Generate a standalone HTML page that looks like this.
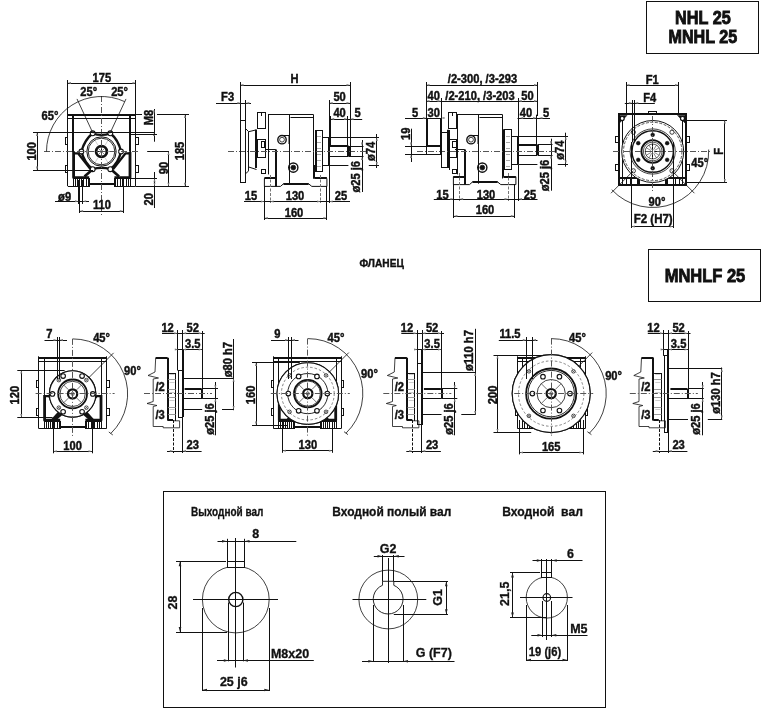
<!DOCTYPE html>
<html><head><meta charset="utf-8"><style>html,body{margin:0;padding:0;background:#fff;width:768px;height:716px;overflow:hidden}svg{display:block;will-change:transform}text{font-family:"Liberation Sans",sans-serif}</style></head>
<body><svg width="768" height="716" viewBox="0 0 768 716" font-family="Liberation Sans, sans-serif" fill="#111"><rect x="646.50" y="1.50" width="112.00" height="52.00" fill="none" stroke="#111" stroke-width="1.0"/>
<text transform="translate(702.90,17.00) rotate(0) scale(0.855,1)" x="0" y="6.80" font-size="19" font-weight="bold" text-anchor="middle" stroke="#111" stroke-width="0.90" xml:space="preserve">NHL 25</text>
<text transform="translate(702.90,36.60) rotate(0) scale(0.850,1)" x="0" y="6.80" font-size="19" font-weight="bold" text-anchor="middle" stroke="#111" stroke-width="0.90" xml:space="preserve">MNHL 25</text>
<rect x="648.50" y="249.50" width="112.00" height="52.00" fill="none" stroke="#111" stroke-width="1.0"/>
<text transform="translate(705.00,275.00) rotate(0) scale(0.890,1)" x="0" y="6.62" font-size="18.5" font-weight="bold" text-anchor="middle" stroke="#111" stroke-width="0.90" xml:space="preserve">MNHLF 25</text>
<text transform="translate(381.70,263.20) rotate(0) scale(1.000,1)" x="0" y="3.87" font-size="10.8" font-weight="bold" text-anchor="middle" stroke="#111" stroke-width="0.38" xml:space="preserve" textLength="44.2" lengthAdjust="spacingAndGlyphs">ФЛАНЕЦ</text>
<line x1="67.80" y1="115.00" x2="135.50" y2="115.00" stroke="#111" stroke-width="2.0"/>
<line x1="67.80" y1="118.50" x2="135.50" y2="118.50" stroke="#111" stroke-width="1.0"/>
<line x1="67.50" y1="113.00" x2="67.50" y2="186.00" stroke="#111" stroke-width="1.0"/>
<line x1="135.50" y1="113.00" x2="135.50" y2="186.00" stroke="#111" stroke-width="1.0"/>
<line x1="73.00" y1="115.00" x2="73.00" y2="152.00" stroke="#111" stroke-width="2.0"/>
<line x1="130.00" y1="115.00" x2="130.00" y2="152.00" stroke="#111" stroke-width="2.0"/>
<line x1="67.80" y1="186.50" x2="89.00" y2="186.50" stroke="#111" stroke-width="1.0"/>
<line x1="114.50" y1="186.50" x2="135.50" y2="186.50" stroke="#111" stroke-width="1.0"/>
<path d="M73.6,152.0 L73.6,177.6 L89.2,177.6" fill="none" stroke="#111" stroke-width="2.8" stroke-linejoin="round"/>
<path d="M73.6,153.3 L78.0,153.3 L90.6,169.4" fill="none" stroke="#111" stroke-width="2.3" stroke-linejoin="round"/>
<path d="M84.5,176.5 L93.0,169.0" fill="none" stroke="#111" stroke-width="2.6" stroke-linejoin="round"/>
<rect x="73.50" y="178.50" width="16.00" height="8.00" fill="none" stroke="#111" stroke-width="1.0"/>
<line x1="75.50" y1="178.50" x2="75.50" y2="186.00" stroke="#111" stroke-width="1.0"/>
<line x1="77.50" y1="178.50" x2="77.50" y2="186.00" stroke="#111" stroke-width="1.0"/>
<line x1="79.50" y1="178.50" x2="79.50" y2="186.00" stroke="#111" stroke-width="1.0"/>
<line x1="81.50" y1="178.50" x2="81.50" y2="186.00" stroke="#111" stroke-width="1.0"/>
<line x1="83.50" y1="178.50" x2="83.50" y2="186.00" stroke="#111" stroke-width="1.0"/>
<line x1="86.50" y1="178.50" x2="86.50" y2="186.00" stroke="#111" stroke-width="1.0"/>
<line x1="88.50" y1="178.50" x2="88.50" y2="186.00" stroke="#111" stroke-width="1.0"/>
<rect x="65.50" y="137.50" width="2.00" height="7.00" fill="none" stroke="#111" stroke-width="1.0"/>
<rect x="65.50" y="165.50" width="2.00" height="7.00" fill="none" stroke="#111" stroke-width="1.0"/>
<path d="M130.0,152.0 L130.0,177.6 L114.39999999999999,177.6" fill="none" stroke="#111" stroke-width="2.8" stroke-linejoin="round"/>
<path d="M130.0,153.3 L125.6,153.3 L113.0,169.4" fill="none" stroke="#111" stroke-width="2.3" stroke-linejoin="round"/>
<path d="M119.1,176.5 L110.6,169.0" fill="none" stroke="#111" stroke-width="2.6" stroke-linejoin="round"/>
<rect x="114.50" y="178.50" width="16.00" height="8.00" fill="none" stroke="#111" stroke-width="1.0"/>
<line x1="128.50" y1="178.50" x2="128.50" y2="186.00" stroke="#111" stroke-width="1.0"/>
<line x1="126.50" y1="178.50" x2="126.50" y2="186.00" stroke="#111" stroke-width="1.0"/>
<line x1="123.50" y1="178.50" x2="123.50" y2="186.00" stroke="#111" stroke-width="1.0"/>
<line x1="122.50" y1="178.50" x2="122.50" y2="186.00" stroke="#111" stroke-width="1.0"/>
<line x1="120.50" y1="178.50" x2="120.50" y2="186.00" stroke="#111" stroke-width="1.0"/>
<line x1="117.50" y1="178.50" x2="117.50" y2="186.00" stroke="#111" stroke-width="1.0"/>
<line x1="115.50" y1="178.50" x2="115.50" y2="186.00" stroke="#111" stroke-width="1.0"/>
<rect x="135.50" y="137.50" width="3.00" height="7.00" fill="none" stroke="#111" stroke-width="1.0"/>
<rect x="135.50" y="165.50" width="3.00" height="7.00" fill="none" stroke="#111" stroke-width="1.0"/>
<line x1="89.00" y1="184.00" x2="114.50" y2="184.00" stroke="#111" stroke-width="2.0"/>
<path d="M92.7,133.3 Q101.5,136.5 110.3,133.3 Q118.5,140 121,151.5 Q118.5,163 110.3,169.2 Q101.5,166.5 92.7,169.2 Q84.5,163 81.4,151.5 Q84.5,140 92.7,133.3 Z" fill="#fff" stroke="#111" stroke-width="2.4" stroke-linejoin="round"/>
<circle cx="92.70" cy="133.30" r="2.40" fill="#fff" stroke="#111" stroke-width="1.1"/>
<circle cx="110.30" cy="133.30" r="2.40" fill="#fff" stroke="#111" stroke-width="1.1"/>
<circle cx="121.00" cy="151.50" r="2.40" fill="#fff" stroke="#111" stroke-width="1.1"/>
<circle cx="110.30" cy="169.20" r="2.40" fill="#fff" stroke="#111" stroke-width="1.1"/>
<circle cx="92.70" cy="169.20" r="2.40" fill="#fff" stroke="#111" stroke-width="1.1"/>
<circle cx="81.40" cy="151.50" r="2.40" fill="#fff" stroke="#111" stroke-width="1.1"/>
<circle cx="101.50" cy="151.50" r="14.70" fill="none" stroke="#111" stroke-width="1.0"/>
<circle cx="101.50" cy="151.50" r="13.30" fill="none" stroke="#111" stroke-width="0.9"/>
<circle cx="101.50" cy="151.50" r="5.40" fill="none" stroke="#111" stroke-width="2.8"/>
<line x1="102.50" y1="151.50" x2="105.50" y2="151.50" stroke="#111" stroke-width="1.0"/>
<line x1="102.21" y1="152.21" x2="104.33" y2="154.33" stroke="#111" stroke-width="0.5"/>
<line x1="101.50" y1="152.50" x2="101.50" y2="155.50" stroke="#111" stroke-width="1.0"/>
<line x1="100.79" y1="152.21" x2="98.67" y2="154.33" stroke="#111" stroke-width="0.5"/>
<line x1="100.50" y1="151.50" x2="97.50" y2="151.50" stroke="#111" stroke-width="1.0"/>
<line x1="100.79" y1="150.79" x2="98.67" y2="148.67" stroke="#111" stroke-width="0.5"/>
<line x1="101.50" y1="150.50" x2="101.50" y2="147.50" stroke="#111" stroke-width="1.0"/>
<line x1="102.21" y1="150.79" x2="104.33" y2="148.67" stroke="#111" stroke-width="0.5"/>
<line x1="105.00" y1="145.44" x2="108.25" y2="139.81" stroke="#888" stroke-width="0.4"/>
<line x1="108.50" y1="151.50" x2="115.00" y2="151.50" stroke="#888" stroke-width="1.0"/>
<line x1="105.00" y1="157.56" x2="108.25" y2="163.19" stroke="#888" stroke-width="0.4"/>
<line x1="98.00" y1="157.56" x2="94.75" y2="163.19" stroke="#888" stroke-width="0.4"/>
<line x1="94.50" y1="151.50" x2="88.00" y2="151.50" stroke="#888" stroke-width="1.0"/>
<line x1="98.00" y1="145.44" x2="94.75" y2="139.81" stroke="#888" stroke-width="0.4"/>
<line x1="44.00" y1="151.50" x2="140.00" y2="151.50" stroke="#555" stroke-width="1.0" stroke-dasharray="6 2 1 2"/>
<line x1="147.20" y1="151.50" x2="169.00" y2="151.50" stroke="#111" stroke-width="1.0"/>
<line x1="101.50" y1="96.00" x2="101.50" y2="216.00" stroke="#555" stroke-width="1.0" stroke-dasharray="6 2 1 2"/>
<path d="M46.50,151.50 A55,55 0 0 1 124.74,101.65" fill="none" stroke="#111" stroke-width="0.8" stroke-linejoin="round"/>
<line x1="93.05" y1="133.37" x2="76.99" y2="98.93" stroke="#111" stroke-width="0.8"/>
<line x1="109.95" y1="133.37" x2="126.01" y2="98.93" stroke="#111" stroke-width="0.8"/>
<text transform="translate(101.80,77.60) rotate(0) scale(0.930,1)" x="0" y="4.30" font-size="12" font-weight="bold" text-anchor="middle" stroke="#111" stroke-width="0.42" xml:space="preserve">175</text>
<line x1="67.50" y1="83.50" x2="136.00" y2="83.50" stroke="#111" stroke-width="1.0"/>
<polygon points="67.50,83.00 71.00,82.00 71.00,84.00" fill="#777"/>
<polygon points="136.00,83.00 132.50,82.00 132.50,84.00" fill="#777"/>
<line x1="67.50" y1="80.00" x2="67.50" y2="114.00" stroke="#111" stroke-width="1.0"/>
<line x1="135.50" y1="80.00" x2="135.50" y2="114.00" stroke="#111" stroke-width="1.0"/>
<text transform="translate(88.80,92.00) rotate(0) scale(0.930,1)" x="0" y="4.30" font-size="12" font-weight="bold" text-anchor="middle" stroke="#111" stroke-width="0.42" xml:space="preserve">25°</text>
<text transform="translate(119.60,92.00) rotate(0) scale(0.930,1)" x="0" y="4.30" font-size="12" font-weight="bold" text-anchor="middle" stroke="#111" stroke-width="0.42" xml:space="preserve">25°</text>
<text transform="translate(50.00,115.50) rotate(0) scale(0.930,1)" x="0" y="4.30" font-size="12" font-weight="bold" text-anchor="middle" stroke="#111" stroke-width="0.42" xml:space="preserve">65°</text>
<line x1="37.50" y1="132.50" x2="37.50" y2="170.00" stroke="#111" stroke-width="1.0"/>
<polygon points="37.00,132.50 36.00,136.00 38.00,136.00" fill="#777"/>
<polygon points="37.00,170.00 36.00,166.50 38.00,166.50" fill="#777"/>
<line x1="33.00" y1="132.50" x2="155.00" y2="132.50" stroke="#111" stroke-width="1.0"/>
<line x1="33.00" y1="170.50" x2="93.00" y2="170.50" stroke="#111" stroke-width="1.0"/>
<text transform="translate(31.30,151.30) rotate(-90) scale(0.930,1)" x="0" y="4.30" font-size="12" font-weight="bold" text-anchor="middle" stroke="#111" stroke-width="0.42" xml:space="preserve">100</text>
<line x1="135.50" y1="114.50" x2="142.00" y2="114.50" stroke="#111" stroke-width="1.0"/>
<line x1="157.00" y1="114.50" x2="189.00" y2="114.50" stroke="#111" stroke-width="1.0"/>
<line x1="135.50" y1="186.50" x2="189.00" y2="186.50" stroke="#111" stroke-width="1.0"/>
<line x1="185.50" y1="114.50" x2="185.50" y2="186.30" stroke="#111" stroke-width="1.0"/>
<polygon points="185.00,114.50 184.00,118.00 186.00,118.00" fill="#777"/>
<polygon points="185.00,186.30 184.00,182.80 186.00,182.80" fill="#777"/>
<text transform="translate(180.00,151.00) rotate(-90) scale(0.930,1)" x="0" y="4.30" font-size="12" font-weight="bold" text-anchor="middle" stroke="#111" stroke-width="0.42" xml:space="preserve">185</text>
<line x1="168.50" y1="151.50" x2="168.50" y2="186.30" stroke="#111" stroke-width="1.0"/>
<polygon points="168.50,151.50 167.50,155.00 169.50,155.00" fill="#777"/>
<polygon points="168.50,186.30 167.50,182.80 169.50,182.80" fill="#777"/>
<text transform="translate(163.50,168.00) rotate(-90) scale(0.930,1)" x="0" y="4.30" font-size="12" font-weight="bold" text-anchor="middle" stroke="#111" stroke-width="0.42" xml:space="preserve">90</text>
<line x1="154.50" y1="109.00" x2="154.50" y2="141.70" stroke="#111" stroke-width="1.0"/>
<polygon points="154.00,114.00 153.00,110.50 155.00,110.50" fill="#777"/>
<polygon points="154.00,132.50 153.00,136.00 155.00,136.00" fill="#777"/>
<line x1="130.00" y1="134.50" x2="157.00" y2="134.50" stroke="#111" stroke-width="1.0"/>
<text transform="translate(148.70,117.50) rotate(-90) scale(0.930,1)" x="0" y="4.30" font-size="12" font-weight="bold" text-anchor="middle" stroke="#111" stroke-width="0.42" xml:space="preserve">M8</text>
<line x1="130.00" y1="178.50" x2="157.00" y2="178.50" stroke="#111" stroke-width="1.0"/>
<line x1="154.50" y1="172.00" x2="154.50" y2="208.00" stroke="#111" stroke-width="1.0"/>
<polygon points="154.50,178.30 153.50,181.80 155.50,181.80" fill="#777"/>
<polygon points="154.50,186.30 153.50,182.80 155.50,182.80" fill="#777"/>
<text transform="translate(148.30,199.20) rotate(-90) scale(0.930,1)" x="0" y="4.30" font-size="12" font-weight="bold" text-anchor="middle" stroke="#111" stroke-width="0.42" xml:space="preserve">20</text>
<line x1="78.50" y1="180.00" x2="78.50" y2="204.00" stroke="#111" stroke-width="1.0"/>
<line x1="82.50" y1="180.00" x2="82.50" y2="204.00" stroke="#111" stroke-width="1.0"/>
<line x1="55.00" y1="201.50" x2="89.00" y2="201.50" stroke="#111" stroke-width="1.0"/>
<polygon points="78.50,201.30 75.00,200.30 75.00,202.30" fill="#777"/>
<polygon points="82.70,201.30 86.20,200.30 86.20,202.30" fill="#777"/>
<text transform="translate(64.60,196.30) rotate(0) scale(0.930,1)" x="0" y="4.30" font-size="12" font-weight="bold" text-anchor="middle" stroke="#111" stroke-width="0.42" xml:space="preserve">ø9</text>
<line x1="79.50" y1="186.00" x2="79.50" y2="213.00" stroke="#111" stroke-width="1.0"/>
<line x1="123.50" y1="186.00" x2="123.50" y2="213.00" stroke="#111" stroke-width="1.0"/>
<line x1="79.60" y1="211.50" x2="123.30" y2="211.50" stroke="#111" stroke-width="1.0"/>
<polygon points="79.60,211.00 83.10,210.00 83.10,212.00" fill="#777"/>
<polygon points="123.30,211.00 119.80,210.00 119.80,212.00" fill="#777"/>
<text transform="translate(102.00,204.80) rotate(0) scale(0.930,1)" x="0" y="4.30" font-size="12" font-weight="bold" text-anchor="middle" stroke="#111" stroke-width="0.42" xml:space="preserve">110</text>
<rect x="257.50" y="112.50" width="8.00" height="16.00" fill="none" stroke="#111" stroke-width="1.0"/>
<line x1="261.50" y1="112.50" x2="261.50" y2="116.00" stroke="#111" stroke-width="1.0"/>
<line x1="256.00" y1="129.80" x2="256.00" y2="168.00" stroke="#111" stroke-width="2.0"/>
<rect x="257.50" y="139.50" width="8.00" height="18.00" fill="none" stroke="#111" stroke-width="1.0"/>
<rect x="261.50" y="141.50" width="3.00" height="6.00" fill="none" stroke="#111" stroke-width="1.0"/>
<rect x="261.50" y="169.50" width="4.00" height="4.00" fill="none" stroke="#111" stroke-width="1.0"/>
<line x1="268.50" y1="114.60" x2="268.50" y2="174.40" stroke="#111" stroke-width="1.0"/>
<line x1="268.30" y1="114.50" x2="289.00" y2="114.50" stroke="#666" stroke-width="1.0"/>
<line x1="313.50" y1="114.60" x2="313.50" y2="178.50" stroke="#111" stroke-width="1.0"/>
<line x1="289.50" y1="114.60" x2="289.50" y2="183.70" stroke="#111" stroke-width="1.0"/>
<line x1="289.00" y1="114.50" x2="313.50" y2="114.50" stroke="#111" stroke-width="1.0"/>
<line x1="290.50" y1="117.50" x2="313.50" y2="117.50" stroke="#111" stroke-width="1.0"/>
<line x1="268.00" y1="114.50" x2="289.00" y2="114.50" stroke="#111" stroke-width="1.0"/>
<line x1="266.00" y1="149.50" x2="275.80" y2="149.50" stroke="#111" stroke-width="1.0"/>
<circle cx="282.00" cy="139.70" r="4.20" fill="none" stroke="#111" stroke-width="1.4"/>
<circle cx="282.00" cy="139.70" r="2.40" fill="none" stroke="#111" stroke-width="0.8"/>
<path d="M282,135.5 L289,135.5 L289,144" fill="none" stroke="#111" stroke-width="1.0" stroke-linejoin="round"/>
<circle cx="293.30" cy="167.60" r="4.60" fill="none" stroke="#111" stroke-width="1.4"/>
<circle cx="293.30" cy="167.60" r="2.40" fill="#111" stroke="#111" stroke-width="0.8"/>
<path d="M264.4,186.4 L264.4,178.5 L275.8,178.5" fill="none" stroke="#111" stroke-width="1.0" stroke-linejoin="round"/>
<line x1="264.40" y1="178.00" x2="275.80" y2="178.00" stroke="#111" stroke-width="2.0"/>
<line x1="314.40" y1="178.00" x2="326.90" y2="178.00" stroke="#111" stroke-width="2.0"/>
<path d="M264.4,186.4 L280.5,186.4 L283.5,183.75 L308.6,183.75 L311.8,186.4 L326.9,186.4 L326.9,178.5" fill="none" stroke="#111" stroke-width="1.0" stroke-linejoin="round"/>
<line x1="283.50" y1="184.00" x2="308.60" y2="184.00" stroke="#111" stroke-width="2.0"/>
<line x1="276.00" y1="149.50" x2="276.00" y2="186.40" stroke="#111" stroke-width="2.0"/>
<line x1="314.00" y1="165.00" x2="314.00" y2="178.50" stroke="#111" stroke-width="2.0"/>
<rect x="315.50" y="130.50" width="7.00" height="41.00" fill="none" stroke="#111" stroke-width="1.0"/>
<line x1="316.00" y1="130.60" x2="316.00" y2="171.00" stroke="#111" stroke-width="2.0"/>
<line x1="317.00" y1="136.50" x2="321.00" y2="136.50" stroke="#aaa" stroke-width="1.0"/>
<line x1="317.00" y1="142.50" x2="321.00" y2="142.50" stroke="#aaa" stroke-width="1.0"/>
<line x1="317.00" y1="148.50" x2="321.00" y2="148.50" stroke="#aaa" stroke-width="1.0"/>
<line x1="317.00" y1="154.50" x2="321.00" y2="154.50" stroke="#aaa" stroke-width="1.0"/>
<line x1="317.00" y1="160.50" x2="321.00" y2="160.50" stroke="#aaa" stroke-width="1.0"/>
<line x1="317.00" y1="166.50" x2="321.00" y2="166.50" stroke="#aaa" stroke-width="1.0"/>
<line x1="313.50" y1="171.50" x2="315.00" y2="171.50" stroke="#111" stroke-width="1.0"/>
<line x1="322.00" y1="137.50" x2="329.20" y2="137.50" stroke="#111" stroke-width="1.0"/>
<line x1="322.00" y1="165.50" x2="329.20" y2="165.50" stroke="#111" stroke-width="1.0"/>
<line x1="329.00" y1="137.60" x2="329.00" y2="165.30" stroke="#111" stroke-width="2.0"/>
<line x1="329.20" y1="146.00" x2="348.40" y2="146.00" stroke="#111" stroke-width="2.0"/>
<line x1="329.20" y1="156.50" x2="348.40" y2="156.50" stroke="#111" stroke-width="1.0"/>
<line x1="349.00" y1="146.00" x2="349.00" y2="156.40" stroke="#111" stroke-width="2.0"/>
<line x1="329.20" y1="137.50" x2="379.00" y2="137.50" stroke="#111" stroke-width="1.0"/>
<line x1="329.20" y1="165.50" x2="348.40" y2="165.50" stroke="#111" stroke-width="1.0"/>
<line x1="368.80" y1="165.50" x2="379.00" y2="165.50" stroke="#111" stroke-width="1.0"/>
<line x1="376.50" y1="134.00" x2="376.50" y2="168.00" stroke="#111" stroke-width="1.0"/>
<polygon points="376.80,137.60 375.80,141.10 377.80,141.10" fill="#777"/>
<polygon points="376.80,165.40 375.80,161.90 377.80,161.90" fill="#777"/>
<text transform="translate(370.40,151.40) rotate(-90) scale(0.930,1)" x="0" y="4.30" font-size="12" font-weight="bold" text-anchor="middle" stroke="#111" stroke-width="0.42" xml:space="preserve">ø74</text>
<line x1="348.90" y1="146.50" x2="363.50" y2="146.50" stroke="#111" stroke-width="1.0"/>
<line x1="348.90" y1="156.50" x2="363.50" y2="156.50" stroke="#111" stroke-width="1.0"/>
<line x1="362.50" y1="140.00" x2="362.50" y2="192.00" stroke="#111" stroke-width="1.0"/>
<polygon points="362.00,146.00 361.00,142.50 363.00,142.50" fill="#777"/>
<polygon points="362.00,156.40 361.00,159.90 363.00,159.90" fill="#777"/>
<text transform="translate(355.80,176.80) rotate(-90) scale(0.930,1)" x="0" y="4.30" font-size="12" font-weight="bold" text-anchor="middle" stroke="#111" stroke-width="0.42" xml:space="preserve">ø25 j6</text>
<line x1="347.50" y1="116.00" x2="347.50" y2="156.40" stroke="#111" stroke-width="1.0"/>
<line x1="228.00" y1="151.50" x2="368.00" y2="151.50" stroke="#555" stroke-width="1.0" stroke-dasharray="6 2 1 2"/>
<rect x="240.50" y="120.50" width="5.00" height="62.00" fill="none" stroke="#111" stroke-width="1.0"/>
<line x1="245.50" y1="100.00" x2="245.50" y2="120.50" stroke="#111" stroke-width="1.0"/>
<path d="M245.8,128.8 L248.7,131.7 L256.5,129.8 M248.7,167 L256.5,169.5 M245.8,173.5 L248.7,170.9" fill="none" stroke="#111" stroke-width="1.0" stroke-linejoin="round"/>
<line x1="248.50" y1="131.70" x2="248.50" y2="170.90" stroke="#111" stroke-width="1.0"/>
<text transform="translate(294.50,78.80) rotate(0) scale(0.930,1)" x="0" y="4.30" font-size="12" font-weight="bold" text-anchor="middle" stroke="#111" stroke-width="0.42" xml:space="preserve">H</text>
<line x1="240.00" y1="85.50" x2="350.00" y2="85.50" stroke="#111" stroke-width="1.0"/>
<polygon points="240.00,85.00 243.50,84.00 243.50,86.00" fill="#777"/>
<polygon points="350.00,85.00 346.50,84.00 346.50,86.00" fill="#777"/>
<line x1="240.50" y1="82.00" x2="240.50" y2="120.50" stroke="#111" stroke-width="1.0"/>
<line x1="350.50" y1="82.00" x2="350.50" y2="156.00" stroke="#111" stroke-width="1.0"/>
<text transform="translate(227.60,96.80) rotate(0) scale(0.930,1)" x="0" y="4.30" font-size="12" font-weight="bold" text-anchor="middle" stroke="#111" stroke-width="0.42" xml:space="preserve">F3</text>
<line x1="216.00" y1="103.50" x2="251.00" y2="103.50" stroke="#111" stroke-width="1.0"/>
<polygon points="240.90,103.00 237.40,102.00 237.40,104.00" fill="#777"/>
<polygon points="245.80,103.00 249.30,102.00 249.30,104.00" fill="#777"/>
<text transform="translate(339.60,96.90) rotate(0) scale(0.930,1)" x="0" y="4.30" font-size="12" font-weight="bold" text-anchor="middle" stroke="#111" stroke-width="0.42" xml:space="preserve">50</text>
<line x1="329.20" y1="103.50" x2="350.00" y2="103.50" stroke="#111" stroke-width="1.0"/>
<polygon points="329.20,103.00 332.70,102.00 332.70,104.00" fill="#777"/>
<polygon points="350.00,103.00 346.50,102.00 346.50,104.00" fill="#777"/>
<line x1="329.50" y1="100.00" x2="329.50" y2="137.60" stroke="#111" stroke-width="1.0"/>
<text transform="translate(339.60,113.00) rotate(0) scale(0.930,1)" x="0" y="4.30" font-size="12" font-weight="bold" text-anchor="middle" stroke="#111" stroke-width="0.42" xml:space="preserve">40</text>
<text transform="translate(357.60,113.00) rotate(0) scale(0.930,1)" x="0" y="4.30" font-size="12" font-weight="bold" text-anchor="middle" stroke="#111" stroke-width="0.42" xml:space="preserve">5</text>
<line x1="330.70" y1="119.50" x2="362.20" y2="119.50" stroke="#111" stroke-width="1.0"/>
<polygon points="330.70,119.00 334.20,118.00 334.20,120.00" fill="#777"/>
<polygon points="347.60,119.00 344.10,118.00 344.10,120.00" fill="#777"/>
<polygon points="350.00,119.00 353.50,118.00 353.50,120.00" fill="#777"/>
<line x1="330.50" y1="116.00" x2="330.50" y2="145.30" stroke="#111" stroke-width="1.0"/>
<text transform="translate(251.00,196.00) rotate(0) scale(0.930,1)" x="0" y="4.30" font-size="12" font-weight="bold" text-anchor="middle" stroke="#111" stroke-width="0.42" xml:space="preserve">15</text>
<text transform="translate(295.00,196.00) rotate(0) scale(0.930,1)" x="0" y="4.30" font-size="12" font-weight="bold" text-anchor="middle" stroke="#111" stroke-width="0.42" xml:space="preserve">130</text>
<text transform="translate(341.00,196.00) rotate(0) scale(0.930,1)" x="0" y="4.30" font-size="12" font-weight="bold" text-anchor="middle" stroke="#111" stroke-width="0.42" xml:space="preserve">25</text>
<line x1="244.00" y1="201.50" x2="350.00" y2="201.50" stroke="#111" stroke-width="1.0"/>
<polygon points="264.40,201.50 260.90,200.50 260.90,202.50" fill="#777"/>
<polygon points="270.10,201.50 273.60,200.50 273.60,202.50" fill="#777"/>
<polygon points="320.60,201.50 317.10,200.50 317.10,202.50" fill="#777"/>
<polygon points="329.20,201.50 332.70,200.50 332.70,202.50" fill="#777"/>
<text transform="translate(294.00,212.50) rotate(0) scale(0.930,1)" x="0" y="4.30" font-size="12" font-weight="bold" text-anchor="middle" stroke="#111" stroke-width="0.42" xml:space="preserve">160</text>
<line x1="264.40" y1="218.50" x2="326.90" y2="218.50" stroke="#111" stroke-width="1.0"/>
<polygon points="264.40,218.00 267.90,217.00 267.90,219.00" fill="#777"/>
<polygon points="326.90,218.00 323.40,217.00 323.40,219.00" fill="#777"/>
<line x1="264.50" y1="186.00" x2="264.50" y2="220.00" stroke="#111" stroke-width="1.0"/>
<line x1="326.50" y1="186.00" x2="326.50" y2="220.00" stroke="#111" stroke-width="1.0"/>
<line x1="270.50" y1="175.00" x2="270.50" y2="203.00" stroke="#777" stroke-width="1.0" stroke-dasharray="3 1.5"/>
<line x1="320.50" y1="175.00" x2="320.50" y2="203.00" stroke="#777" stroke-width="1.0" stroke-dasharray="3 1.5"/>
<line x1="329.50" y1="165.00" x2="329.50" y2="203.00" stroke="#111" stroke-width="1.0"/>
<rect x="448.50" y="112.50" width="8.00" height="16.00" fill="none" stroke="#111" stroke-width="1.0"/>
<line x1="452.50" y1="112.50" x2="452.50" y2="116.00" stroke="#111" stroke-width="1.0"/>
<line x1="448.00" y1="129.80" x2="448.00" y2="168.00" stroke="#111" stroke-width="2.0"/>
<rect x="448.50" y="139.50" width="8.00" height="18.00" fill="none" stroke="#111" stroke-width="1.0"/>
<rect x="452.50" y="141.50" width="4.00" height="6.00" fill="none" stroke="#111" stroke-width="1.0"/>
<rect x="452.50" y="169.50" width="4.00" height="4.00" fill="none" stroke="#111" stroke-width="1.0"/>
<line x1="457.50" y1="114.60" x2="457.50" y2="174.40" stroke="#111" stroke-width="1.0"/>
<line x1="457.30" y1="114.50" x2="478.00" y2="114.50" stroke="#666" stroke-width="1.0"/>
<line x1="502.50" y1="114.60" x2="502.50" y2="178.50" stroke="#111" stroke-width="1.0"/>
<line x1="478.50" y1="114.60" x2="478.50" y2="183.70" stroke="#111" stroke-width="1.0"/>
<line x1="478.00" y1="114.50" x2="502.50" y2="114.50" stroke="#111" stroke-width="1.0"/>
<line x1="479.50" y1="117.50" x2="502.50" y2="117.50" stroke="#111" stroke-width="1.0"/>
<line x1="457.00" y1="114.50" x2="478.00" y2="114.50" stroke="#111" stroke-width="1.0"/>
<line x1="455.00" y1="149.50" x2="464.80" y2="149.50" stroke="#111" stroke-width="1.0"/>
<circle cx="471.00" cy="139.70" r="4.20" fill="none" stroke="#111" stroke-width="1.4"/>
<circle cx="471.00" cy="139.70" r="2.40" fill="none" stroke="#111" stroke-width="0.8"/>
<path d="M471,135.5 L478,135.5 L478,144" fill="none" stroke="#111" stroke-width="1.0" stroke-linejoin="round"/>
<circle cx="482.30" cy="167.60" r="4.60" fill="none" stroke="#111" stroke-width="1.4"/>
<circle cx="482.30" cy="167.60" r="2.40" fill="#111" stroke="#111" stroke-width="0.8"/>
<path d="M453.4,184.6 L453.4,176.7 L464.8,176.7" fill="none" stroke="#111" stroke-width="1.0" stroke-linejoin="round"/>
<line x1="453.40" y1="177.00" x2="464.80" y2="177.00" stroke="#111" stroke-width="2.0"/>
<line x1="503.40" y1="177.00" x2="515.90" y2="177.00" stroke="#111" stroke-width="2.0"/>
<path d="M453.4,184.6 L469.5,184.6 L472.5,181.95 L497.6,181.95 L500.8,184.6 L515.9,184.6 L515.9,176.7" fill="none" stroke="#111" stroke-width="1.0" stroke-linejoin="round"/>
<line x1="472.50" y1="182.00" x2="497.60" y2="182.00" stroke="#111" stroke-width="2.0"/>
<line x1="465.00" y1="149.50" x2="465.00" y2="184.60" stroke="#111" stroke-width="2.0"/>
<line x1="503.00" y1="165.00" x2="503.00" y2="176.70" stroke="#111" stroke-width="2.0"/>
<rect x="504.50" y="129.50" width="7.00" height="40.00" fill="none" stroke="#111" stroke-width="1.0"/>
<line x1="504.00" y1="129.30" x2="504.00" y2="169.70" stroke="#111" stroke-width="2.0"/>
<line x1="506.00" y1="136.50" x2="510.00" y2="136.50" stroke="#aaa" stroke-width="1.0"/>
<line x1="506.00" y1="142.50" x2="510.00" y2="142.50" stroke="#aaa" stroke-width="1.0"/>
<line x1="506.00" y1="148.50" x2="510.00" y2="148.50" stroke="#aaa" stroke-width="1.0"/>
<line x1="506.00" y1="154.50" x2="510.00" y2="154.50" stroke="#aaa" stroke-width="1.0"/>
<line x1="506.00" y1="160.50" x2="510.00" y2="160.50" stroke="#aaa" stroke-width="1.0"/>
<line x1="506.00" y1="166.50" x2="510.00" y2="166.50" stroke="#aaa" stroke-width="1.0"/>
<line x1="502.50" y1="169.50" x2="504.00" y2="169.50" stroke="#111" stroke-width="1.0"/>
<line x1="511.00" y1="136.50" x2="518.20" y2="136.50" stroke="#111" stroke-width="1.0"/>
<line x1="511.00" y1="164.50" x2="518.20" y2="164.50" stroke="#111" stroke-width="1.0"/>
<line x1="518.00" y1="136.30" x2="518.00" y2="164.00" stroke="#111" stroke-width="2.0"/>
<line x1="518.20" y1="145.00" x2="537.40" y2="145.00" stroke="#111" stroke-width="2.0"/>
<line x1="518.20" y1="155.50" x2="537.40" y2="155.50" stroke="#111" stroke-width="1.0"/>
<line x1="538.00" y1="144.70" x2="538.00" y2="155.10" stroke="#111" stroke-width="2.0"/>
<line x1="518.20" y1="136.50" x2="568.00" y2="136.50" stroke="#111" stroke-width="1.0"/>
<line x1="518.20" y1="164.50" x2="537.40" y2="164.50" stroke="#111" stroke-width="1.0"/>
<line x1="557.80" y1="164.50" x2="568.00" y2="164.50" stroke="#111" stroke-width="1.0"/>
<line x1="565.50" y1="132.70" x2="565.50" y2="166.70" stroke="#111" stroke-width="1.0"/>
<polygon points="565.80,136.30 564.80,139.80 566.80,139.80" fill="#777"/>
<polygon points="565.80,164.10 564.80,160.60 566.80,160.60" fill="#777"/>
<text transform="translate(559.40,150.10) rotate(-90) scale(0.930,1)" x="0" y="4.30" font-size="12" font-weight="bold" text-anchor="middle" stroke="#111" stroke-width="0.42" xml:space="preserve">ø74</text>
<line x1="537.90" y1="144.50" x2="552.50" y2="144.50" stroke="#111" stroke-width="1.0"/>
<line x1="537.90" y1="155.50" x2="552.50" y2="155.50" stroke="#111" stroke-width="1.0"/>
<line x1="551.50" y1="138.70" x2="551.50" y2="190.70" stroke="#111" stroke-width="1.0"/>
<polygon points="551.00,144.70 550.00,141.20 552.00,141.20" fill="#777"/>
<polygon points="551.00,155.10 550.00,158.60 552.00,158.60" fill="#777"/>
<text transform="translate(544.80,175.50) rotate(-90) scale(0.930,1)" x="0" y="4.30" font-size="12" font-weight="bold" text-anchor="middle" stroke="#111" stroke-width="0.42" xml:space="preserve">ø25 j6</text>
<line x1="536.50" y1="114.70" x2="536.50" y2="155.10" stroke="#111" stroke-width="1.0"/>
<line x1="417.00" y1="151.50" x2="557.00" y2="151.50" stroke="#555" stroke-width="1.0" stroke-dasharray="6 2 1 2"/>
<line x1="441.50" y1="132.70" x2="441.50" y2="167.60" stroke="#111" stroke-width="1.0"/>
<line x1="441.00" y1="132.50" x2="449.00" y2="132.50" stroke="#111" stroke-width="1.0"/>
<line x1="441.00" y1="167.50" x2="449.00" y2="167.50" stroke="#111" stroke-width="1.0"/>
<line x1="449.50" y1="130.00" x2="449.50" y2="170.00" stroke="#111" stroke-width="1.0"/>
<rect x="426.50" y="118.50" width="14.00" height="36.00" fill="none" stroke="#111" stroke-width="1.0"/>
<line x1="427.00" y1="118.00" x2="427.00" y2="145.30" stroke="#111" stroke-width="2.0"/>
<line x1="427.00" y1="145.50" x2="440.40" y2="145.50" stroke="#111" stroke-width="1.0"/>
<line x1="405.00" y1="146.50" x2="441.00" y2="146.50" stroke="#111" stroke-width="1.0"/>
<line x1="405.00" y1="154.50" x2="441.00" y2="154.50" stroke="#111" stroke-width="1.0"/>
<line x1="411.50" y1="128.70" x2="411.50" y2="162.00" stroke="#111" stroke-width="1.0"/>
<polygon points="411.00,146.00 410.00,142.50 412.00,142.50" fill="#777"/>
<polygon points="411.00,154.40 410.00,157.90 412.00,157.90" fill="#777"/>
<text transform="translate(406.00,133.80) rotate(-90) scale(0.930,1)" x="0" y="4.30" font-size="12" font-weight="bold" text-anchor="middle" stroke="#111" stroke-width="0.42" xml:space="preserve">19</text>
<text transform="translate(482.50,78.80) rotate(0) scale(0.930,1)" x="0" y="4.30" font-size="12" font-weight="bold" text-anchor="middle" stroke="#111" stroke-width="0.42" xml:space="preserve">/2-300, /3-293</text>
<line x1="426.00" y1="85.50" x2="537.50" y2="85.50" stroke="#111" stroke-width="1.0"/>
<polygon points="426.00,85.00 429.50,84.00 429.50,86.00" fill="#777"/>
<polygon points="537.50,85.00 534.00,84.00 534.00,86.00" fill="#777"/>
<text transform="translate(433.80,95.80) rotate(0) scale(0.930,1)" x="0" y="4.30" font-size="12" font-weight="bold" text-anchor="middle" stroke="#111" stroke-width="0.42" xml:space="preserve">40</text>
<text transform="translate(480.00,95.80) rotate(0) scale(0.930,1)" x="0" y="4.30" font-size="12" font-weight="bold" text-anchor="middle" stroke="#111" stroke-width="0.42" xml:space="preserve">/2-210, /3-203</text>
<text transform="translate(527.50,95.80) rotate(0) scale(0.930,1)" x="0" y="4.30" font-size="12" font-weight="bold" text-anchor="middle" stroke="#111" stroke-width="0.42" xml:space="preserve">50</text>
<line x1="426.00" y1="101.50" x2="537.50" y2="101.50" stroke="#111" stroke-width="1.0"/>
<polygon points="426.00,101.00 429.50,100.00 429.50,102.00" fill="#777"/>
<polygon points="537.50,101.00 534.00,100.00 534.00,102.00" fill="#777"/>
<polygon points="441.00,101.00 437.50,100.00 437.50,102.00" fill="#777"/>
<polygon points="518.20,101.00 521.70,100.00 521.70,102.00" fill="#777"/>
<line x1="426.50" y1="82.00" x2="426.50" y2="118.00" stroke="#111" stroke-width="1.0"/>
<line x1="441.50" y1="98.00" x2="441.50" y2="132.70" stroke="#111" stroke-width="1.0"/>
<line x1="537.50" y1="82.00" x2="537.50" y2="116.00" stroke="#111" stroke-width="1.0"/>
<line x1="518.50" y1="98.00" x2="518.50" y2="137.60" stroke="#111" stroke-width="1.0"/>
<text transform="translate(415.00,112.50) rotate(0) scale(0.930,1)" x="0" y="4.30" font-size="12" font-weight="bold" text-anchor="middle" stroke="#111" stroke-width="0.42" xml:space="preserve">5</text>
<text transform="translate(433.80,112.50) rotate(0) scale(0.930,1)" x="0" y="4.30" font-size="12" font-weight="bold" text-anchor="middle" stroke="#111" stroke-width="0.42" xml:space="preserve">30</text>
<line x1="405.00" y1="118.50" x2="441.00" y2="118.50" stroke="#111" stroke-width="1.0"/>
<polygon points="426.40,118.00 422.90,117.00 422.90,119.00" fill="#777"/>
<polygon points="441.00,118.00 444.50,117.00 444.50,119.00" fill="#777"/>
<text transform="translate(526.00,112.50) rotate(0) scale(0.930,1)" x="0" y="4.30" font-size="12" font-weight="bold" text-anchor="middle" stroke="#111" stroke-width="0.42" xml:space="preserve">40</text>
<text transform="translate(546.00,112.50) rotate(0) scale(0.930,1)" x="0" y="4.30" font-size="12" font-weight="bold" text-anchor="middle" stroke="#111" stroke-width="0.42" xml:space="preserve">5</text>
<line x1="517.50" y1="118.50" x2="550.00" y2="118.50" stroke="#111" stroke-width="1.0"/>
<polygon points="519.70,118.00 523.20,117.00 523.20,119.00" fill="#777"/>
<polygon points="536.60,118.00 533.10,117.00 533.10,119.00" fill="#777"/>
<polygon points="539.00,118.00 542.50,117.00 542.50,119.00" fill="#777"/>
<text transform="translate(442.50,195.00) rotate(0) scale(0.930,1)" x="0" y="4.30" font-size="12" font-weight="bold" text-anchor="middle" stroke="#111" stroke-width="0.42" xml:space="preserve">15</text>
<text transform="translate(486.00,195.00) rotate(0) scale(0.930,1)" x="0" y="4.30" font-size="12" font-weight="bold" text-anchor="middle" stroke="#111" stroke-width="0.42" xml:space="preserve">130</text>
<text transform="translate(530.00,195.00) rotate(0) scale(0.930,1)" x="0" y="4.30" font-size="12" font-weight="bold" text-anchor="middle" stroke="#111" stroke-width="0.42" xml:space="preserve">25</text>
<line x1="433.80" y1="199.50" x2="537.50" y2="199.50" stroke="#111" stroke-width="1.0"/>
<polygon points="453.90,199.00 450.40,198.00 450.40,200.00" fill="#777"/>
<polygon points="459.60,199.00 463.10,198.00 463.10,200.00" fill="#777"/>
<polygon points="508.00,199.00 504.50,198.00 504.50,200.00" fill="#777"/>
<polygon points="518.50,199.00 522.00,198.00 522.00,200.00" fill="#777"/>
<line x1="459.50" y1="173.00" x2="459.50" y2="201.00" stroke="#777" stroke-width="1.0" stroke-dasharray="3 1.5"/>
<line x1="508.50" y1="173.00" x2="508.50" y2="201.00" stroke="#777" stroke-width="1.0" stroke-dasharray="3 1.5"/>
<line x1="518.50" y1="165.00" x2="518.50" y2="201.00" stroke="#111" stroke-width="1.0"/>
<text transform="translate(485.00,210.00) rotate(0) scale(0.930,1)" x="0" y="4.30" font-size="12" font-weight="bold" text-anchor="middle" stroke="#111" stroke-width="0.42" xml:space="preserve">160</text>
<line x1="453.90" y1="216.50" x2="514.30" y2="216.50" stroke="#111" stroke-width="1.0"/>
<polygon points="453.90,216.00 457.40,215.00 457.40,217.00" fill="#777"/>
<polygon points="514.30,216.00 510.80,215.00 510.80,217.00" fill="#777"/>
<line x1="453.50" y1="184.00" x2="453.50" y2="218.00" stroke="#111" stroke-width="1.0"/>
<line x1="514.50" y1="184.00" x2="514.50" y2="218.00" stroke="#111" stroke-width="1.0"/>
<rect x="619.00" y="114.00" width="67.00" height="71.00" fill="none" stroke="#111" stroke-width="2.0"/>
<line x1="622.50" y1="117.00" x2="622.50" y2="178.00" stroke="#111" stroke-width="1.0"/>
<line x1="682.50" y1="117.00" x2="682.50" y2="178.00" stroke="#111" stroke-width="1.0"/>
<line x1="618.80" y1="178.00" x2="686.00" y2="178.00" stroke="#111" stroke-width="2.0"/>
<rect x="618.50" y="178.50" width="21.00" height="7.00" fill="none" stroke="#111" stroke-width="1.0"/>
<rect x="665.50" y="178.50" width="21.00" height="7.00" fill="none" stroke="#111" stroke-width="1.0"/>
<line x1="622.50" y1="178.00" x2="622.50" y2="185.40" stroke="#111" stroke-width="1.0"/>
<line x1="638.00" y1="178.00" x2="638.00" y2="185.40" stroke="#111" stroke-width="2.0"/>
<line x1="667.00" y1="178.00" x2="667.00" y2="185.40" stroke="#111" stroke-width="2.0"/>
<line x1="682.50" y1="178.00" x2="682.50" y2="185.40" stroke="#111" stroke-width="1.0"/>
<line x1="626.50" y1="178.00" x2="626.50" y2="185.40" stroke="#111" stroke-width="1.0"/>
<line x1="630.50" y1="178.00" x2="630.50" y2="185.40" stroke="#111" stroke-width="1.0"/>
<line x1="675.50" y1="178.00" x2="675.50" y2="185.40" stroke="#111" stroke-width="1.0"/>
<line x1="679.50" y1="178.00" x2="679.50" y2="185.40" stroke="#111" stroke-width="1.0"/>
<line x1="639.50" y1="185.00" x2="665.30" y2="185.00" stroke="#111" stroke-width="2.0"/>
<rect x="648.50" y="111.50" width="8.00" height="3.00" fill="none" stroke="#111" stroke-width="1.0"/>
<path d="M619.5,115.5 L627,115.5 L619.5,123 Z" fill="#111" stroke="#111" stroke-width="0.5" stroke-linejoin="round"/>
<path d="M685,115.5 L677.5,115.5 L685,123 Z" fill="#111" stroke="#111" stroke-width="0.5" stroke-linejoin="round"/>
<circle cx="622.20" cy="118.50" r="2.00" fill="#fff" stroke="#111" stroke-width="1.2"/>
<circle cx="682.50" cy="118.50" r="2.00" fill="#fff" stroke="#111" stroke-width="1.2"/>
<rect x="615.50" y="136.50" width="3.00" height="6.00" fill="none" stroke="#111" stroke-width="1.0"/>
<rect x="686.50" y="136.50" width="3.00" height="6.00" fill="none" stroke="#111" stroke-width="1.0"/>
<rect x="615.50" y="164.50" width="3.00" height="6.00" fill="none" stroke="#111" stroke-width="1.0"/>
<rect x="686.50" y="164.50" width="3.00" height="6.00" fill="none" stroke="#111" stroke-width="1.0"/>
<circle cx="652.70" cy="151.50" r="31.00" fill="#fff" stroke="#111" stroke-width="1.0"/>
<circle cx="652.70" cy="151.50" r="29.20" fill="none" stroke="#111" stroke-width="0.7" stroke-dasharray="3 1.5"/>
<circle cx="652.70" cy="151.50" r="22.60" fill="none" stroke="#111" stroke-width="0.8"/>
<circle cx="652.70" cy="151.50" r="20.70" fill="none" stroke="#111" stroke-width="1.4"/>
<circle cx="652.70" cy="151.50" r="11.30" fill="none" stroke="#111" stroke-width="1.8"/>
<circle cx="652.70" cy="151.50" r="9.40" fill="none" stroke="#111" stroke-width="0.7"/>
<circle cx="652.70" cy="151.50" r="7.50" fill="none" stroke="#111" stroke-width="0.7"/>
<line x1="654.70" y1="151.50" x2="660.20" y2="151.50" stroke="#111" stroke-width="1.0"/>
<line x1="654.43" y1="152.50" x2="659.20" y2="155.25" stroke="#111" stroke-width="0.5"/>
<line x1="653.70" y1="153.23" x2="656.45" y2="158.00" stroke="#111" stroke-width="0.5"/>
<line x1="652.50" y1="153.50" x2="652.50" y2="159.00" stroke="#111" stroke-width="1.0"/>
<line x1="651.70" y1="153.23" x2="648.95" y2="158.00" stroke="#111" stroke-width="0.5"/>
<line x1="650.97" y1="152.50" x2="646.20" y2="155.25" stroke="#111" stroke-width="0.5"/>
<line x1="650.70" y1="151.50" x2="645.20" y2="151.50" stroke="#111" stroke-width="1.0"/>
<line x1="650.97" y1="150.50" x2="646.20" y2="147.75" stroke="#111" stroke-width="0.5"/>
<line x1="651.70" y1="149.77" x2="648.95" y2="145.00" stroke="#111" stroke-width="0.5"/>
<line x1="652.50" y1="149.50" x2="652.50" y2="144.00" stroke="#111" stroke-width="1.0"/>
<line x1="653.70" y1="149.77" x2="656.45" y2="145.00" stroke="#111" stroke-width="0.5"/>
<line x1="654.43" y1="150.50" x2="659.20" y2="147.75" stroke="#111" stroke-width="0.5"/>
<circle cx="652.70" cy="134.80" r="1.90" fill="#111" stroke="#111" stroke-width="0.5"/>
<circle cx="667.16" cy="143.15" r="1.90" fill="#111" stroke="#111" stroke-width="0.5"/>
<circle cx="667.16" cy="159.85" r="1.90" fill="#111" stroke="#111" stroke-width="0.5"/>
<circle cx="652.70" cy="168.20" r="1.90" fill="#111" stroke="#111" stroke-width="0.5"/>
<circle cx="638.24" cy="159.85" r="1.90" fill="#111" stroke="#111" stroke-width="0.5"/>
<circle cx="638.24" cy="143.15" r="1.90" fill="#111" stroke="#111" stroke-width="0.5"/>
<circle cx="672.00" cy="170.80" r="2.10" fill="none" stroke="#111" stroke-width="0.8"/>
<circle cx="633.40" cy="170.80" r="2.10" fill="none" stroke="#111" stroke-width="0.8"/>
<circle cx="633.40" cy="132.20" r="2.10" fill="none" stroke="#111" stroke-width="0.8"/>
<circle cx="672.00" cy="132.20" r="2.10" fill="none" stroke="#111" stroke-width="0.8"/>
<line x1="613.00" y1="151.50" x2="712.00" y2="151.50" stroke="#555" stroke-width="1.0" stroke-dasharray="6 2 1 2"/>
<line x1="652.50" y1="116.00" x2="652.50" y2="192.00" stroke="#555" stroke-width="1.0" stroke-dasharray="6 2 1 2"/>
<path d="M708.67,149.55 A56,56 0 0 1 611.74,189.69" fill="none" stroke="#111" stroke-width="0.8" stroke-linejoin="round"/>
<line x1="671.79" y1="170.59" x2="694.42" y2="193.22" stroke="#111" stroke-width="0.8"/>
<line x1="633.61" y1="170.59" x2="610.98" y2="193.22" stroke="#111" stroke-width="0.8"/>
<text transform="translate(699.80,162.80) rotate(0) scale(0.930,1)" x="0" y="4.30" font-size="12" font-weight="bold" text-anchor="middle" stroke="#111" stroke-width="0.42" xml:space="preserve">45°</text>
<text transform="translate(657.00,201.50) rotate(0) scale(0.930,1)" x="0" y="4.30" font-size="12" font-weight="bold" text-anchor="middle" stroke="#111" stroke-width="0.42" xml:space="preserve">90°</text>
<text transform="translate(652.30,79.50) rotate(0) scale(0.930,1)" x="0" y="4.30" font-size="12" font-weight="bold" text-anchor="middle" stroke="#111" stroke-width="0.42" xml:space="preserve">F1</text>
<line x1="626.00" y1="85.50" x2="678.50" y2="85.50" stroke="#111" stroke-width="1.0"/>
<polygon points="626.00,85.00 629.50,84.00 629.50,86.00" fill="#777"/>
<polygon points="678.50,85.00 675.00,84.00 675.00,86.00" fill="#777"/>
<line x1="626.50" y1="82.00" x2="626.50" y2="114.00" stroke="#111" stroke-width="1.0"/>
<line x1="678.50" y1="82.00" x2="678.50" y2="114.00" stroke="#111" stroke-width="1.0"/>
<text transform="translate(649.80,97.50) rotate(0) scale(0.930,1)" x="0" y="4.30" font-size="12" font-weight="bold" text-anchor="middle" stroke="#111" stroke-width="0.42" xml:space="preserve">F4</text>
<line x1="624.80" y1="103.50" x2="654.80" y2="103.50" stroke="#111" stroke-width="1.0"/>
<polygon points="632.30,103.00 628.80,102.00 628.80,104.00" fill="#777"/>
<polygon points="634.80,103.00 638.30,102.00 638.30,104.00" fill="#777"/>
<line x1="632.50" y1="100.00" x2="632.50" y2="142.00" stroke="#111" stroke-width="1.0"/>
<line x1="634.50" y1="100.00" x2="634.50" y2="142.00" stroke="#111" stroke-width="1.0"/>
<line x1="686.00" y1="120.50" x2="727.00" y2="120.50" stroke="#111" stroke-width="1.0"/>
<line x1="686.00" y1="182.50" x2="727.00" y2="182.50" stroke="#111" stroke-width="1.0"/>
<line x1="724.50" y1="120.00" x2="724.50" y2="182.50" stroke="#111" stroke-width="1.0"/>
<polygon points="724.80,120.00 723.80,123.50 725.80,123.50" fill="#777"/>
<polygon points="724.80,182.50 723.80,179.00 725.80,179.00" fill="#777"/>
<text transform="translate(718.50,151.30) rotate(-90) scale(0.930,1)" x="0" y="4.30" font-size="12" font-weight="bold" text-anchor="middle" stroke="#111" stroke-width="0.42" xml:space="preserve">F</text>
<text transform="translate(653.20,218.80) rotate(0) scale(1.000,1)" x="0" y="4.30" font-size="12" font-weight="bold" text-anchor="middle" stroke="#111" stroke-width="0.42" xml:space="preserve" textLength="39" lengthAdjust="spacingAndGlyphs">F2 (H7)</text>
<line x1="631.50" y1="142.00" x2="631.50" y2="228.00" stroke="#111" stroke-width="1.0"/>
<line x1="673.50" y1="142.00" x2="673.50" y2="228.00" stroke="#111" stroke-width="1.0"/>
<line x1="631.30" y1="226.50" x2="673.40" y2="226.50" stroke="#111" stroke-width="1.0"/>
<polygon points="631.30,226.60 634.80,225.60 634.80,227.60" fill="#777"/>
<polygon points="673.40,226.60 669.90,225.60 669.90,227.60" fill="#777"/>
<line x1="38.80" y1="358.00" x2="106.50" y2="358.00" stroke="#111" stroke-width="2.0"/>
<line x1="38.80" y1="361.50" x2="106.50" y2="361.50" stroke="#111" stroke-width="1.0"/>
<line x1="38.50" y1="356.31" x2="38.50" y2="428.58" stroke="#111" stroke-width="1.0"/>
<line x1="106.50" y1="356.31" x2="106.50" y2="428.58" stroke="#111" stroke-width="1.0"/>
<line x1="44.50" y1="358.29" x2="44.50" y2="394.92" stroke="#111" stroke-width="1.0"/>
<line x1="101.50" y1="358.29" x2="101.50" y2="394.92" stroke="#111" stroke-width="1.0"/>
<line x1="38.80" y1="428.50" x2="60.00" y2="428.50" stroke="#111" stroke-width="1.0"/>
<line x1="85.50" y1="428.50" x2="106.50" y2="428.50" stroke="#111" stroke-width="1.0"/>
<path d="M44.599999999999994,394.924 L44.599999999999994,420.268 L60.2,420.268" fill="none" stroke="#111" stroke-width="2.8" stroke-linejoin="round"/>
<path d="M44.599999999999994,396.211 L49.0,396.211 L61.599999999999994,412.15" fill="none" stroke="#111" stroke-width="2.3" stroke-linejoin="round"/>
<path d="M55.5,419.179 L64.0,411.75399999999996" fill="none" stroke="#111" stroke-width="2.6" stroke-linejoin="round"/>
<rect x="44.50" y="421.50" width="16.00" height="7.00" fill="none" stroke="#111" stroke-width="1.0"/>
<line x1="46.50" y1="421.16" x2="46.50" y2="428.58" stroke="#111" stroke-width="1.0"/>
<line x1="48.50" y1="421.16" x2="48.50" y2="428.58" stroke="#111" stroke-width="1.0"/>
<line x1="50.50" y1="421.16" x2="50.50" y2="428.58" stroke="#111" stroke-width="1.0"/>
<line x1="52.50" y1="421.16" x2="52.50" y2="428.58" stroke="#111" stroke-width="1.0"/>
<line x1="54.50" y1="421.16" x2="54.50" y2="428.58" stroke="#111" stroke-width="1.0"/>
<line x1="57.50" y1="421.16" x2="57.50" y2="428.58" stroke="#111" stroke-width="1.0"/>
<line x1="59.50" y1="421.16" x2="59.50" y2="428.58" stroke="#111" stroke-width="1.0"/>
<rect x="36.50" y="380.50" width="2.00" height="7.00" fill="none" stroke="#111" stroke-width="1.0"/>
<rect x="36.50" y="408.50" width="2.00" height="7.00" fill="none" stroke="#111" stroke-width="1.0"/>
<path d="M101.0,394.924 L101.0,420.268 L85.39999999999999,420.268" fill="none" stroke="#111" stroke-width="2.8" stroke-linejoin="round"/>
<path d="M101.0,396.211 L96.6,396.211 L84.0,412.15" fill="none" stroke="#111" stroke-width="2.3" stroke-linejoin="round"/>
<path d="M90.1,419.179 L81.6,411.75399999999996" fill="none" stroke="#111" stroke-width="2.6" stroke-linejoin="round"/>
<rect x="85.50" y="421.50" width="16.00" height="7.00" fill="none" stroke="#111" stroke-width="1.0"/>
<line x1="99.50" y1="421.16" x2="99.50" y2="428.58" stroke="#111" stroke-width="1.0"/>
<line x1="97.50" y1="421.16" x2="97.50" y2="428.58" stroke="#111" stroke-width="1.0"/>
<line x1="94.50" y1="421.16" x2="94.50" y2="428.58" stroke="#111" stroke-width="1.0"/>
<line x1="93.50" y1="421.16" x2="93.50" y2="428.58" stroke="#111" stroke-width="1.0"/>
<line x1="91.50" y1="421.16" x2="91.50" y2="428.58" stroke="#111" stroke-width="1.0"/>
<line x1="88.50" y1="421.16" x2="88.50" y2="428.58" stroke="#111" stroke-width="1.0"/>
<line x1="86.50" y1="421.16" x2="86.50" y2="428.58" stroke="#111" stroke-width="1.0"/>
<rect x="106.50" y="380.50" width="3.00" height="7.00" fill="none" stroke="#111" stroke-width="1.0"/>
<rect x="106.50" y="408.50" width="3.00" height="7.00" fill="none" stroke="#111" stroke-width="1.0"/>
<line x1="60.00" y1="427.00" x2="85.50" y2="427.00" stroke="#111" stroke-width="2.0"/>
<circle cx="72.60" cy="393.90" r="23.20" fill="#fff" stroke="#111" stroke-width="1.1"/>
<path d="M60.44,411.27 L52.60,419.90" fill="none" stroke="#111" stroke-width="3.0" stroke-linejoin="round"/>
<path d="M84.76,411.27 L92.60,419.90" fill="none" stroke="#111" stroke-width="3.0" stroke-linejoin="round"/>
<circle cx="72.60" cy="393.90" r="23.20" fill="#fff" stroke="#111" stroke-width="1.1"/>
<circle cx="72.60" cy="393.90" r="14.40" fill="none" stroke="#111" stroke-width="1.8"/>
<circle cx="72.60" cy="393.90" r="12.60" fill="none" stroke="#111" stroke-width="0.8"/>
<circle cx="72.60" cy="393.90" r="4.60" fill="none" stroke="#111" stroke-width="2.2"/>
<circle cx="72.60" cy="393.90" r="1.60" fill="none" stroke="#111" stroke-width="0.6"/>
<line x1="76.84" y1="398.14" x2="81.51" y2="402.81" stroke="#111" stroke-width="0.6"/>
<line x1="68.36" y1="398.14" x2="63.69" y2="402.81" stroke="#111" stroke-width="0.6"/>
<line x1="68.36" y1="389.66" x2="63.69" y2="384.99" stroke="#111" stroke-width="0.6"/>
<line x1="76.84" y1="389.66" x2="81.51" y2="384.99" stroke="#111" stroke-width="0.6"/>
<circle cx="92.80" cy="393.90" r="2.30" fill="#fff" stroke="#111" stroke-width="1.1"/>
<circle cx="82.08" cy="411.74" r="2.30" fill="#fff" stroke="#111" stroke-width="1.1"/>
<circle cx="63.12" cy="411.74" r="2.30" fill="#fff" stroke="#111" stroke-width="1.1"/>
<circle cx="52.40" cy="393.90" r="2.30" fill="#fff" stroke="#111" stroke-width="1.1"/>
<circle cx="63.12" cy="376.06" r="2.30" fill="#fff" stroke="#111" stroke-width="1.1"/>
<circle cx="82.08" cy="376.06" r="2.30" fill="#fff" stroke="#111" stroke-width="1.1"/>
<circle cx="86.39" cy="407.69" r="1.80" fill="#fff" stroke="#111" stroke-width="0.7"/>
<line x1="85.09" y1="406.39" x2="87.69" y2="408.99" stroke="#111" stroke-width="0.5"/>
<line x1="85.09" y1="408.99" x2="87.69" y2="406.39" stroke="#111" stroke-width="0.5"/>
<circle cx="58.81" cy="407.69" r="1.80" fill="#fff" stroke="#111" stroke-width="0.7"/>
<line x1="57.51" y1="406.39" x2="60.11" y2="408.99" stroke="#111" stroke-width="0.5"/>
<line x1="57.51" y1="408.99" x2="60.11" y2="406.39" stroke="#111" stroke-width="0.5"/>
<circle cx="58.81" cy="380.11" r="1.80" fill="#fff" stroke="#111" stroke-width="0.7"/>
<line x1="57.51" y1="378.81" x2="60.11" y2="381.41" stroke="#111" stroke-width="0.5"/>
<line x1="57.51" y1="381.41" x2="60.11" y2="378.81" stroke="#111" stroke-width="0.5"/>
<circle cx="86.39" cy="380.11" r="1.80" fill="#fff" stroke="#111" stroke-width="0.7"/>
<line x1="85.09" y1="378.81" x2="87.69" y2="381.41" stroke="#111" stroke-width="0.5"/>
<line x1="85.09" y1="381.41" x2="87.69" y2="378.81" stroke="#111" stroke-width="0.5"/>
<line x1="35.60" y1="393.50" x2="114.60" y2="393.50" stroke="#555" stroke-width="1.0" stroke-dasharray="6 2 1 2"/>
<line x1="72.50" y1="338.90" x2="72.50" y2="436.90" stroke="#555" stroke-width="1.0" stroke-dasharray="6 2 1 2"/>
<path d="M72.60,338.90 A55,55 0 0 1 110.81,433.46" fill="none" stroke="#111" stroke-width="0.8" stroke-linejoin="round"/>
<line x1="88.30" y1="378.20" x2="113.61" y2="352.89" stroke="#111" stroke-width="0.8"/>
<line x1="108.81" y1="431.96" x2="112.81" y2="434.96" stroke="#111" stroke-width="0.8"/>
<text transform="translate(101.60,337.50) rotate(0) scale(0.930,1)" x="0" y="4.30" font-size="12" font-weight="bold" text-anchor="middle" stroke="#111" stroke-width="0.42" xml:space="preserve">45°</text>
<text transform="translate(132.50,370.80) rotate(0) scale(0.930,1)" x="0" y="4.30" font-size="12" font-weight="bold" text-anchor="middle" stroke="#111" stroke-width="0.42" xml:space="preserve">90°</text>
<line x1="21.50" y1="370.00" x2="21.50" y2="417.50" stroke="#111" stroke-width="1.0"/>
<polygon points="21.30,370.00 20.30,373.50 22.30,373.50" fill="#777"/>
<polygon points="21.30,417.50 20.30,414.00 22.30,414.00" fill="#777"/>
<line x1="17.30" y1="370.50" x2="64.60" y2="370.50" stroke="#111" stroke-width="1.0"/>
<line x1="17.30" y1="417.50" x2="52.60" y2="417.50" stroke="#111" stroke-width="1.0"/>
<text transform="translate(15.00,395.20) rotate(-90) scale(0.930,1)" x="0" y="4.30" font-size="12" font-weight="bold" text-anchor="middle" stroke="#111" stroke-width="0.42" xml:space="preserve">120</text>
<line x1="53.30" y1="451.50" x2="92.00" y2="451.50" stroke="#111" stroke-width="1.0"/>
<polygon points="53.30,451.30 56.80,450.30 56.80,452.30" fill="#777"/>
<polygon points="92.00,451.30 88.50,450.30 88.50,452.30" fill="#777"/>
<line x1="53.50" y1="420.00" x2="53.50" y2="453.30" stroke="#111" stroke-width="1.0"/>
<line x1="92.50" y1="420.00" x2="92.50" y2="453.30" stroke="#111" stroke-width="1.0"/>
<text transform="translate(72.60,445.30) rotate(0) scale(0.930,1)" x="0" y="4.30" font-size="12" font-weight="bold" text-anchor="middle" stroke="#111" stroke-width="0.42" xml:space="preserve">100</text>
<text transform="translate(49.30,333.80) rotate(0) scale(0.930,1)" x="0" y="4.30" font-size="12" font-weight="bold" text-anchor="middle" stroke="#111" stroke-width="0.42" xml:space="preserve">7</text>
<line x1="44.50" y1="340.50" x2="67.00" y2="340.50" stroke="#111" stroke-width="1.0"/>
<polygon points="57.00,340.00 53.50,339.00 53.50,341.00" fill="#777"/>
<polygon points="59.50,340.00 63.00,339.00 63.00,341.00" fill="#777"/>
<line x1="57.50" y1="337.00" x2="57.50" y2="379.00" stroke="#111" stroke-width="1.0"/>
<line x1="59.50" y1="337.00" x2="59.50" y2="379.00" stroke="#111" stroke-width="1.0"/>
<line x1="273.50" y1="358.00" x2="341.20" y2="358.00" stroke="#111" stroke-width="2.0"/>
<line x1="273.50" y1="361.50" x2="341.20" y2="361.50" stroke="#111" stroke-width="1.0"/>
<line x1="273.50" y1="356.31" x2="273.50" y2="428.58" stroke="#111" stroke-width="1.0"/>
<line x1="341.50" y1="356.31" x2="341.50" y2="428.58" stroke="#111" stroke-width="1.0"/>
<line x1="278.50" y1="358.29" x2="278.50" y2="394.92" stroke="#111" stroke-width="1.0"/>
<line x1="336.50" y1="358.29" x2="336.50" y2="394.92" stroke="#111" stroke-width="1.0"/>
<line x1="273.50" y1="428.50" x2="294.70" y2="428.50" stroke="#111" stroke-width="1.0"/>
<line x1="320.20" y1="428.50" x2="341.20" y2="428.50" stroke="#111" stroke-width="1.0"/>
<path d="M279.3,394.924 L279.3,420.268 L294.9,420.268" fill="none" stroke="#111" stroke-width="2.8" stroke-linejoin="round"/>
<path d="M279.3,396.211 L283.7,396.211 L296.3,412.15" fill="none" stroke="#111" stroke-width="2.3" stroke-linejoin="round"/>
<path d="M290.2,419.179 L298.7,411.75399999999996" fill="none" stroke="#111" stroke-width="2.6" stroke-linejoin="round"/>
<rect x="278.50" y="421.50" width="16.00" height="7.00" fill="none" stroke="#111" stroke-width="1.0"/>
<line x1="280.50" y1="421.16" x2="280.50" y2="428.58" stroke="#111" stroke-width="1.0"/>
<line x1="283.50" y1="421.16" x2="283.50" y2="428.58" stroke="#111" stroke-width="1.0"/>
<line x1="285.50" y1="421.16" x2="285.50" y2="428.58" stroke="#111" stroke-width="1.0"/>
<line x1="287.50" y1="421.16" x2="287.50" y2="428.58" stroke="#111" stroke-width="1.0"/>
<line x1="289.50" y1="421.16" x2="289.50" y2="428.58" stroke="#111" stroke-width="1.0"/>
<line x1="291.50" y1="421.16" x2="291.50" y2="428.58" stroke="#111" stroke-width="1.0"/>
<line x1="293.50" y1="421.16" x2="293.50" y2="428.58" stroke="#111" stroke-width="1.0"/>
<rect x="271.50" y="380.50" width="2.00" height="7.00" fill="none" stroke="#111" stroke-width="1.0"/>
<rect x="271.50" y="408.50" width="2.00" height="7.00" fill="none" stroke="#111" stroke-width="1.0"/>
<path d="M335.7,394.924 L335.7,420.268 L320.1,420.268" fill="none" stroke="#111" stroke-width="2.8" stroke-linejoin="round"/>
<path d="M335.7,396.211 L331.3,396.211 L318.7,412.15" fill="none" stroke="#111" stroke-width="2.3" stroke-linejoin="round"/>
<path d="M324.8,419.179 L316.3,411.75399999999996" fill="none" stroke="#111" stroke-width="2.6" stroke-linejoin="round"/>
<rect x="320.50" y="421.50" width="16.00" height="7.00" fill="none" stroke="#111" stroke-width="1.0"/>
<line x1="334.50" y1="421.16" x2="334.50" y2="428.58" stroke="#111" stroke-width="1.0"/>
<line x1="332.50" y1="421.16" x2="332.50" y2="428.58" stroke="#111" stroke-width="1.0"/>
<line x1="329.50" y1="421.16" x2="329.50" y2="428.58" stroke="#111" stroke-width="1.0"/>
<line x1="327.50" y1="421.16" x2="327.50" y2="428.58" stroke="#111" stroke-width="1.0"/>
<line x1="325.50" y1="421.16" x2="325.50" y2="428.58" stroke="#111" stroke-width="1.0"/>
<line x1="323.50" y1="421.16" x2="323.50" y2="428.58" stroke="#111" stroke-width="1.0"/>
<line x1="321.50" y1="421.16" x2="321.50" y2="428.58" stroke="#111" stroke-width="1.0"/>
<rect x="341.50" y="380.50" width="2.00" height="7.00" fill="none" stroke="#111" stroke-width="1.0"/>
<rect x="341.50" y="408.50" width="2.00" height="7.00" fill="none" stroke="#111" stroke-width="1.0"/>
<line x1="294.70" y1="427.00" x2="320.20" y2="427.00" stroke="#111" stroke-width="2.0"/>
<circle cx="307.80" cy="393.60" r="30.80" fill="#fff" stroke="#111" stroke-width="1.1"/>
<path d="M291.28,417.19 L287.80,419.60" fill="none" stroke="#111" stroke-width="3.0" stroke-linejoin="round"/>
<path d="M324.32,417.19 L327.80,419.60" fill="none" stroke="#111" stroke-width="3.0" stroke-linejoin="round"/>
<circle cx="307.80" cy="393.60" r="30.80" fill="#fff" stroke="#111" stroke-width="1.1"/>
<circle cx="307.80" cy="393.60" r="26.40" fill="none" stroke="#666" stroke-width="0.8" stroke-dasharray="2.5 2"/>
<circle cx="307.80" cy="393.60" r="20.10" fill="none" stroke="#111" stroke-width="0.9"/>
<circle cx="307.80" cy="393.60" r="13.80" fill="none" stroke="#111" stroke-width="1.8"/>
<circle cx="307.80" cy="393.60" r="12.60" fill="none" stroke="#111" stroke-width="0.8"/>
<circle cx="307.80" cy="393.60" r="4.60" fill="none" stroke="#111" stroke-width="2.2"/>
<circle cx="307.80" cy="393.60" r="1.60" fill="none" stroke="#111" stroke-width="0.6"/>
<line x1="312.04" y1="397.84" x2="316.71" y2="402.51" stroke="#111" stroke-width="0.6"/>
<line x1="303.56" y1="397.84" x2="298.89" y2="402.51" stroke="#111" stroke-width="0.6"/>
<line x1="303.56" y1="389.36" x2="298.89" y2="384.69" stroke="#111" stroke-width="0.6"/>
<line x1="312.04" y1="389.36" x2="316.71" y2="384.69" stroke="#111" stroke-width="0.6"/>
<circle cx="327.30" cy="393.60" r="2.30" fill="#fff" stroke="#111" stroke-width="1.1"/>
<circle cx="316.95" cy="410.82" r="2.30" fill="#fff" stroke="#111" stroke-width="1.1"/>
<circle cx="298.65" cy="410.82" r="2.30" fill="#fff" stroke="#111" stroke-width="1.1"/>
<circle cx="288.30" cy="393.60" r="2.30" fill="#fff" stroke="#111" stroke-width="1.1"/>
<circle cx="298.65" cy="376.38" r="2.30" fill="#fff" stroke="#111" stroke-width="1.1"/>
<circle cx="316.95" cy="376.38" r="2.30" fill="#fff" stroke="#111" stroke-width="1.1"/>
<circle cx="326.04" cy="411.84" r="1.80" fill="#fff" stroke="#111" stroke-width="0.7"/>
<line x1="324.74" y1="410.54" x2="327.34" y2="413.14" stroke="#111" stroke-width="0.5"/>
<line x1="324.74" y1="413.14" x2="327.34" y2="410.54" stroke="#111" stroke-width="0.5"/>
<circle cx="289.56" cy="411.84" r="1.80" fill="#fff" stroke="#111" stroke-width="0.7"/>
<line x1="288.26" y1="410.54" x2="290.86" y2="413.14" stroke="#111" stroke-width="0.5"/>
<line x1="288.26" y1="413.14" x2="290.86" y2="410.54" stroke="#111" stroke-width="0.5"/>
<circle cx="289.56" cy="375.36" r="1.80" fill="#fff" stroke="#111" stroke-width="0.7"/>
<line x1="288.26" y1="374.06" x2="290.86" y2="376.66" stroke="#111" stroke-width="0.5"/>
<line x1="288.26" y1="376.66" x2="290.86" y2="374.06" stroke="#111" stroke-width="0.5"/>
<circle cx="326.04" cy="375.36" r="1.80" fill="#fff" stroke="#111" stroke-width="0.7"/>
<line x1="324.74" y1="374.06" x2="327.34" y2="376.66" stroke="#111" stroke-width="0.5"/>
<line x1="324.74" y1="376.66" x2="327.34" y2="374.06" stroke="#111" stroke-width="0.5"/>
<line x1="270.80" y1="393.50" x2="349.80" y2="393.50" stroke="#555" stroke-width="1.0" stroke-dasharray="6 2 1 2"/>
<line x1="307.50" y1="338.60" x2="307.50" y2="436.60" stroke="#555" stroke-width="1.0" stroke-dasharray="6 2 1 2"/>
<path d="M307.80,338.60 A55,55 0 0 1 346.01,433.16" fill="none" stroke="#111" stroke-width="0.8" stroke-linejoin="round"/>
<line x1="328.87" y1="372.53" x2="348.81" y2="352.59" stroke="#111" stroke-width="0.8"/>
<line x1="344.01" y1="431.66" x2="348.01" y2="434.66" stroke="#111" stroke-width="0.8"/>
<text transform="translate(336.00,337.50) rotate(0) scale(0.930,1)" x="0" y="4.30" font-size="12" font-weight="bold" text-anchor="middle" stroke="#111" stroke-width="0.42" xml:space="preserve">45°</text>
<text transform="translate(369.50,373.50) rotate(0) scale(0.930,1)" x="0" y="4.30" font-size="12" font-weight="bold" text-anchor="middle" stroke="#111" stroke-width="0.42" xml:space="preserve">90°</text>
<line x1="256.50" y1="362.50" x2="256.50" y2="425.00" stroke="#111" stroke-width="1.0"/>
<polygon points="256.00,362.50 255.00,366.00 257.00,366.00" fill="#777"/>
<polygon points="256.00,425.00 255.00,421.50 257.00,421.50" fill="#777"/>
<line x1="252.00" y1="362.50" x2="299.80" y2="362.50" stroke="#111" stroke-width="1.0"/>
<line x1="252.00" y1="425.50" x2="287.80" y2="425.50" stroke="#111" stroke-width="1.0"/>
<text transform="translate(251.00,394.90) rotate(-90) scale(0.930,1)" x="0" y="4.30" font-size="12" font-weight="bold" text-anchor="middle" stroke="#111" stroke-width="0.42" xml:space="preserve">160</text>
<line x1="282.30" y1="450.50" x2="332.40" y2="450.50" stroke="#111" stroke-width="1.0"/>
<polygon points="282.30,450.80 285.80,449.80 285.80,451.80" fill="#777"/>
<polygon points="332.40,450.80 328.90,449.80 328.90,451.80" fill="#777"/>
<line x1="282.50" y1="420.00" x2="282.50" y2="452.80" stroke="#111" stroke-width="1.0"/>
<line x1="332.50" y1="420.00" x2="332.50" y2="452.80" stroke="#111" stroke-width="1.0"/>
<text transform="translate(307.80,444.80) rotate(0) scale(0.930,1)" x="0" y="4.30" font-size="12" font-weight="bold" text-anchor="middle" stroke="#111" stroke-width="0.42" xml:space="preserve">130</text>
<text transform="translate(277.30,333.80) rotate(0) scale(0.930,1)" x="0" y="4.30" font-size="12" font-weight="bold" text-anchor="middle" stroke="#111" stroke-width="0.42" xml:space="preserve">9</text>
<line x1="271.00" y1="340.50" x2="298.50" y2="340.50" stroke="#111" stroke-width="1.0"/>
<polygon points="288.50,340.00 285.00,339.00 285.00,341.00" fill="#777"/>
<polygon points="291.50,340.00 295.00,339.00 295.00,341.00" fill="#777"/>
<line x1="288.50" y1="337.00" x2="288.50" y2="379.00" stroke="#111" stroke-width="1.0"/>
<line x1="291.50" y1="337.00" x2="291.50" y2="379.00" stroke="#111" stroke-width="1.0"/>
<line x1="517.50" y1="358.00" x2="585.20" y2="358.00" stroke="#111" stroke-width="2.0"/>
<line x1="517.50" y1="361.50" x2="585.20" y2="361.50" stroke="#111" stroke-width="1.0"/>
<line x1="517.50" y1="356.31" x2="517.50" y2="428.58" stroke="#111" stroke-width="1.0"/>
<line x1="585.50" y1="356.31" x2="585.50" y2="428.58" stroke="#111" stroke-width="1.0"/>
<line x1="522.50" y1="358.29" x2="522.50" y2="394.92" stroke="#111" stroke-width="1.0"/>
<line x1="580.50" y1="358.29" x2="580.50" y2="394.92" stroke="#111" stroke-width="1.0"/>
<line x1="517.50" y1="428.50" x2="538.70" y2="428.50" stroke="#111" stroke-width="1.0"/>
<line x1="564.20" y1="428.50" x2="585.20" y2="428.50" stroke="#111" stroke-width="1.0"/>
<path d="M523.3,394.924 L523.3,420.268 L538.9,420.268" fill="none" stroke="#111" stroke-width="2.8" stroke-linejoin="round"/>
<path d="M523.3,396.211 L527.7,396.211 L540.3,412.15" fill="none" stroke="#111" stroke-width="2.3" stroke-linejoin="round"/>
<path d="M534.2,419.179 L542.7,411.75399999999996" fill="none" stroke="#111" stroke-width="2.6" stroke-linejoin="round"/>
<rect x="522.50" y="421.50" width="16.00" height="7.00" fill="none" stroke="#111" stroke-width="1.0"/>
<line x1="524.50" y1="421.16" x2="524.50" y2="428.58" stroke="#111" stroke-width="1.0"/>
<line x1="527.50" y1="421.16" x2="527.50" y2="428.58" stroke="#111" stroke-width="1.0"/>
<line x1="529.50" y1="421.16" x2="529.50" y2="428.58" stroke="#111" stroke-width="1.0"/>
<line x1="531.50" y1="421.16" x2="531.50" y2="428.58" stroke="#111" stroke-width="1.0"/>
<line x1="533.50" y1="421.16" x2="533.50" y2="428.58" stroke="#111" stroke-width="1.0"/>
<line x1="535.50" y1="421.16" x2="535.50" y2="428.58" stroke="#111" stroke-width="1.0"/>
<line x1="537.50" y1="421.16" x2="537.50" y2="428.58" stroke="#111" stroke-width="1.0"/>
<rect x="515.50" y="380.50" width="2.00" height="7.00" fill="none" stroke="#111" stroke-width="1.0"/>
<rect x="515.50" y="408.50" width="2.00" height="7.00" fill="none" stroke="#111" stroke-width="1.0"/>
<path d="M579.7,394.924 L579.7,420.268 L564.1,420.268" fill="none" stroke="#111" stroke-width="2.8" stroke-linejoin="round"/>
<path d="M579.7,396.211 L575.3,396.211 L562.7,412.15" fill="none" stroke="#111" stroke-width="2.3" stroke-linejoin="round"/>
<path d="M568.8,419.179 L560.3,411.75399999999996" fill="none" stroke="#111" stroke-width="2.6" stroke-linejoin="round"/>
<rect x="564.50" y="421.50" width="16.00" height="7.00" fill="none" stroke="#111" stroke-width="1.0"/>
<line x1="578.50" y1="421.16" x2="578.50" y2="428.58" stroke="#111" stroke-width="1.0"/>
<line x1="576.50" y1="421.16" x2="576.50" y2="428.58" stroke="#111" stroke-width="1.0"/>
<line x1="573.50" y1="421.16" x2="573.50" y2="428.58" stroke="#111" stroke-width="1.0"/>
<line x1="571.50" y1="421.16" x2="571.50" y2="428.58" stroke="#111" stroke-width="1.0"/>
<line x1="569.50" y1="421.16" x2="569.50" y2="428.58" stroke="#111" stroke-width="1.0"/>
<line x1="567.50" y1="421.16" x2="567.50" y2="428.58" stroke="#111" stroke-width="1.0"/>
<line x1="565.50" y1="421.16" x2="565.50" y2="428.58" stroke="#111" stroke-width="1.0"/>
<rect x="585.50" y="380.50" width="2.00" height="7.00" fill="none" stroke="#111" stroke-width="1.0"/>
<rect x="585.50" y="408.50" width="2.00" height="7.00" fill="none" stroke="#111" stroke-width="1.0"/>
<line x1="538.70" y1="427.00" x2="564.20" y2="427.00" stroke="#111" stroke-width="2.0"/>
<circle cx="551.20" cy="393.60" r="39.00" fill="#fff" stroke="#111" stroke-width="1.1"/>
<path d="M529.98,423.91 L531.20,419.60" fill="none" stroke="#111" stroke-width="3.0" stroke-linejoin="round"/>
<path d="M572.42,423.91 L571.20,419.60" fill="none" stroke="#111" stroke-width="3.0" stroke-linejoin="round"/>
<circle cx="551.20" cy="393.60" r="39.00" fill="#fff" stroke="#111" stroke-width="1.1"/>
<circle cx="551.20" cy="393.60" r="32.70" fill="none" stroke="#666" stroke-width="0.8" stroke-dasharray="2.5 2"/>
<circle cx="551.20" cy="393.60" r="23.20" fill="none" stroke="#111" stroke-width="0.9"/>
<circle cx="551.20" cy="393.60" r="25.10" fill="none" stroke="#111" stroke-width="1.8"/>
<circle cx="551.20" cy="393.60" r="14.10" fill="none" stroke="#111" stroke-width="0.8"/>
<circle cx="551.20" cy="393.60" r="4.60" fill="none" stroke="#111" stroke-width="2.2"/>
<circle cx="551.20" cy="393.60" r="1.60" fill="none" stroke="#111" stroke-width="0.6"/>
<line x1="555.44" y1="397.84" x2="561.17" y2="403.57" stroke="#111" stroke-width="0.6"/>
<line x1="546.96" y1="397.84" x2="541.23" y2="403.57" stroke="#111" stroke-width="0.6"/>
<line x1="546.96" y1="389.36" x2="541.23" y2="383.63" stroke="#111" stroke-width="0.6"/>
<line x1="555.44" y1="389.36" x2="561.17" y2="383.63" stroke="#111" stroke-width="0.6"/>
<circle cx="570.00" cy="393.60" r="2.30" fill="#fff" stroke="#111" stroke-width="1.1"/>
<circle cx="559.44" cy="410.50" r="2.30" fill="#fff" stroke="#111" stroke-width="1.1"/>
<circle cx="542.96" cy="410.50" r="2.30" fill="#fff" stroke="#111" stroke-width="1.1"/>
<circle cx="532.40" cy="393.60" r="2.30" fill="#fff" stroke="#111" stroke-width="1.1"/>
<circle cx="542.96" cy="376.70" r="2.30" fill="#fff" stroke="#111" stroke-width="1.1"/>
<circle cx="559.44" cy="376.70" r="2.30" fill="#fff" stroke="#111" stroke-width="1.1"/>
<circle cx="573.47" cy="415.87" r="1.80" fill="#fff" stroke="#111" stroke-width="0.7"/>
<line x1="572.17" y1="414.57" x2="574.77" y2="417.17" stroke="#111" stroke-width="0.5"/>
<line x1="572.17" y1="417.17" x2="574.77" y2="414.57" stroke="#111" stroke-width="0.5"/>
<circle cx="528.93" cy="415.87" r="1.80" fill="#fff" stroke="#111" stroke-width="0.7"/>
<line x1="527.63" y1="414.57" x2="530.23" y2="417.17" stroke="#111" stroke-width="0.5"/>
<line x1="527.63" y1="417.17" x2="530.23" y2="414.57" stroke="#111" stroke-width="0.5"/>
<circle cx="528.93" cy="371.33" r="1.80" fill="#fff" stroke="#111" stroke-width="0.7"/>
<line x1="527.63" y1="370.03" x2="530.23" y2="372.63" stroke="#111" stroke-width="0.5"/>
<line x1="527.63" y1="372.63" x2="530.23" y2="370.03" stroke="#111" stroke-width="0.5"/>
<circle cx="573.47" cy="371.33" r="1.80" fill="#fff" stroke="#111" stroke-width="0.7"/>
<line x1="572.17" y1="370.03" x2="574.77" y2="372.63" stroke="#111" stroke-width="0.5"/>
<line x1="572.17" y1="372.63" x2="574.77" y2="370.03" stroke="#111" stroke-width="0.5"/>
<line x1="514.20" y1="393.50" x2="593.20" y2="393.50" stroke="#555" stroke-width="1.0" stroke-dasharray="6 2 1 2"/>
<line x1="551.50" y1="338.60" x2="551.50" y2="436.60" stroke="#555" stroke-width="1.0" stroke-dasharray="6 2 1 2"/>
<path d="M551.20,338.60 A55,55 0 0 1 589.41,433.16" fill="none" stroke="#111" stroke-width="0.8" stroke-linejoin="round"/>
<line x1="578.07" y1="366.73" x2="592.21" y2="352.59" stroke="#111" stroke-width="0.8"/>
<line x1="587.41" y1="431.66" x2="591.41" y2="434.66" stroke="#111" stroke-width="0.8"/>
<text transform="translate(577.50,337.50) rotate(0) scale(0.930,1)" x="0" y="4.30" font-size="12" font-weight="bold" text-anchor="middle" stroke="#111" stroke-width="0.42" xml:space="preserve">45°</text>
<text transform="translate(613.60,376.00) rotate(0) scale(0.930,1)" x="0" y="4.30" font-size="12" font-weight="bold" text-anchor="middle" stroke="#111" stroke-width="0.42" xml:space="preserve">90°</text>
<line x1="497.50" y1="355.00" x2="497.50" y2="432.50" stroke="#111" stroke-width="1.0"/>
<polygon points="497.50,355.00 496.50,358.50 498.50,358.50" fill="#777"/>
<polygon points="497.50,432.50 496.50,429.00 498.50,429.00" fill="#777"/>
<line x1="493.50" y1="355.50" x2="543.20" y2="355.50" stroke="#111" stroke-width="1.0"/>
<line x1="493.50" y1="432.50" x2="531.20" y2="432.50" stroke="#111" stroke-width="1.0"/>
<text transform="translate(492.50,394.90) rotate(-90) scale(0.930,1)" x="0" y="4.30" font-size="12" font-weight="bold" text-anchor="middle" stroke="#111" stroke-width="0.42" xml:space="preserve">200</text>
<line x1="519.50" y1="452.50" x2="583.00" y2="452.50" stroke="#111" stroke-width="1.0"/>
<polygon points="519.50,452.40 523.00,451.40 523.00,453.40" fill="#777"/>
<polygon points="583.00,452.40 579.50,451.40 579.50,453.40" fill="#777"/>
<line x1="519.50" y1="420.00" x2="519.50" y2="454.40" stroke="#111" stroke-width="1.0"/>
<line x1="583.50" y1="420.00" x2="583.50" y2="454.40" stroke="#111" stroke-width="1.0"/>
<text transform="translate(551.20,446.40) rotate(0) scale(0.930,1)" x="0" y="4.30" font-size="12" font-weight="bold" text-anchor="middle" stroke="#111" stroke-width="0.42" xml:space="preserve">165</text>
<text transform="translate(510.00,333.80) rotate(0) scale(0.930,1)" x="0" y="4.30" font-size="12" font-weight="bold" text-anchor="middle" stroke="#111" stroke-width="0.42" xml:space="preserve">11.5</text>
<line x1="498.80" y1="340.50" x2="537.50" y2="340.50" stroke="#111" stroke-width="1.0"/>
<polygon points="526.30,340.00 522.80,339.00 522.80,341.00" fill="#777"/>
<polygon points="532.50,340.00 536.00,339.00 536.00,341.00" fill="#777"/>
<line x1="526.50" y1="337.00" x2="526.50" y2="379.00" stroke="#111" stroke-width="1.0"/>
<line x1="532.50" y1="337.00" x2="532.50" y2="379.00" stroke="#111" stroke-width="1.0"/>
<line x1="155.70" y1="358.00" x2="167.60" y2="358.00" stroke="#111" stroke-width="2.0"/>
<path d="M155.7,357.7 L155,372 L148,375.5 L158.5,378 L153.2,379 L153.2,401.5 L147,403.5 L157,405.5 L153.2,406.5 L153.2,426.5 L163.2,426.5 L163.2,427.8 L179.6,427.8 L179.6,420.8 L173,420.8" fill="none" stroke="#111" stroke-width="0.8" stroke-linejoin="round"/>
<line x1="168.00" y1="357.70" x2="168.00" y2="420.50" stroke="#111" stroke-width="2.0"/>
<line x1="167.60" y1="420.00" x2="173.00" y2="420.00" stroke="#111" stroke-width="2.0"/>
<line x1="168.30" y1="373.50" x2="175.60" y2="373.50" stroke="#111" stroke-width="1.0"/>
<line x1="175.50" y1="373.00" x2="175.50" y2="421.00" stroke="#111" stroke-width="1.0"/>
<line x1="168.30" y1="379.50" x2="175.60" y2="379.50" stroke="#999" stroke-width="1.0"/>
<line x1="168.30" y1="389.50" x2="175.60" y2="389.50" stroke="#999" stroke-width="1.0"/>
<line x1="168.30" y1="397.50" x2="175.60" y2="397.50" stroke="#999" stroke-width="1.0"/>
<line x1="168.30" y1="407.50" x2="175.60" y2="407.50" stroke="#999" stroke-width="1.0"/>
<line x1="168.30" y1="414.50" x2="175.60" y2="414.50" stroke="#999" stroke-width="1.0"/>
<line x1="169.50" y1="374.50" x2="174.50" y2="374.50" stroke="#ccc" stroke-width="1.0"/>
<line x1="169.50" y1="382.50" x2="174.50" y2="382.50" stroke="#ccc" stroke-width="1.0"/>
<line x1="169.50" y1="392.50" x2="174.50" y2="392.50" stroke="#ccc" stroke-width="1.0"/>
<line x1="169.50" y1="400.50" x2="174.50" y2="400.50" stroke="#ccc" stroke-width="1.0"/>
<line x1="169.50" y1="409.50" x2="174.50" y2="409.50" stroke="#ccc" stroke-width="1.0"/>
<text transform="translate(160.10,387.00) rotate(0) scale(0.930,1)" x="0" y="4.30" font-size="12" font-weight="bold" text-anchor="middle" stroke="#111" stroke-width="0.42" xml:space="preserve">/2</text>
<text transform="translate(160.10,414.60) rotate(0) scale(0.930,1)" x="0" y="4.30" font-size="12" font-weight="bold" text-anchor="middle" stroke="#111" stroke-width="0.42" xml:space="preserve">/3</text>
<rect x="178.50" y="370.50" width="4.00" height="47.00" fill="none" stroke="#111" stroke-width="1.0"/>
<line x1="183.00" y1="349.60" x2="183.00" y2="417.10" stroke="#111" stroke-width="2.0"/>
<line x1="182.70" y1="378.50" x2="234.00" y2="378.50" stroke="#111" stroke-width="1.0"/>
<line x1="182.70" y1="409.50" x2="202.20" y2="409.50" stroke="#111" stroke-width="1.0"/>
<line x1="222.00" y1="409.50" x2="234.00" y2="409.50" stroke="#111" stroke-width="1.0"/>
<line x1="184.60" y1="389.00" x2="201.60" y2="389.00" stroke="#111" stroke-width="2.0"/>
<line x1="202.00" y1="388.80" x2="202.00" y2="398.30" stroke="#111" stroke-width="2.0"/>
<line x1="182.70" y1="398.50" x2="202.20" y2="398.50" stroke="#111" stroke-width="1.0"/>
<line x1="202.20" y1="388.50" x2="218.00" y2="388.50" stroke="#111" stroke-width="1.0"/>
<line x1="202.20" y1="398.50" x2="218.00" y2="398.50" stroke="#111" stroke-width="1.0"/>
<line x1="215.50" y1="382.00" x2="215.50" y2="435.30" stroke="#111" stroke-width="1.0"/>
<polygon points="215.40,388.80 214.40,385.30 216.40,385.30" fill="#777"/>
<polygon points="215.40,398.30 214.40,401.80 216.40,401.80" fill="#777"/>
<text transform="translate(209.70,419.00) rotate(-90) scale(0.930,1)" x="0" y="4.30" font-size="12" font-weight="bold" text-anchor="middle" stroke="#111" stroke-width="0.42" xml:space="preserve">ø25 j6</text>
<line x1="233.50" y1="339.00" x2="233.50" y2="410.20" stroke="#111" stroke-width="1.0"/>
<polygon points="233.60,378.20 232.60,381.70 234.60,381.70" fill="#777"/>
<polygon points="233.60,409.60 232.60,406.10 234.60,406.10" fill="#777"/>
<text transform="translate(228.00,359.60) rotate(-90) scale(0.930,1)" x="0" y="4.30" font-size="12" font-weight="bold" text-anchor="middle" stroke="#111" stroke-width="0.42" xml:space="preserve">ø80 h7</text>
<line x1="202.50" y1="331.00" x2="202.50" y2="398.30" stroke="#111" stroke-width="1.0"/>
<line x1="177.50" y1="330.00" x2="177.50" y2="370.50" stroke="#111" stroke-width="1.0"/>
<line x1="182.50" y1="330.00" x2="182.50" y2="349.60" stroke="#111" stroke-width="1.0"/>
<text transform="translate(167.60,327.60) rotate(0) scale(0.930,1)" x="0" y="4.30" font-size="12" font-weight="bold" text-anchor="middle" stroke="#111" stroke-width="0.42" xml:space="preserve">12</text>
<text transform="translate(192.80,327.60) rotate(0) scale(0.930,1)" x="0" y="4.30" font-size="12" font-weight="bold" text-anchor="middle" stroke="#111" stroke-width="0.42" xml:space="preserve">52</text>
<line x1="162.00" y1="333.50" x2="204.70" y2="333.50" stroke="#111" stroke-width="1.0"/>
<polygon points="177.70,333.20 174.20,332.20 174.20,334.20" fill="#777"/>
<polygon points="182.70,333.20 186.20,332.20 186.20,334.20" fill="#777"/>
<polygon points="202.20,333.20 198.70,332.20 198.70,334.20" fill="#777"/>
<text transform="translate(192.80,343.30) rotate(0) scale(0.930,1)" x="0" y="4.30" font-size="12" font-weight="bold" text-anchor="middle" stroke="#111" stroke-width="0.42" xml:space="preserve">3.5</text>
<line x1="176.40" y1="349.50" x2="202.20" y2="349.50" stroke="#111" stroke-width="1.0"/>
<polygon points="178.30,349.60 174.80,348.60 174.80,350.60" fill="#777"/>
<polygon points="182.70,349.60 186.20,348.60 186.20,350.60" fill="#777"/>
<polygon points="202.20,349.60 198.70,348.60 198.70,350.60" fill="#777"/>
<text transform="translate(192.80,444.70) rotate(0) scale(0.930,1)" x="0" y="4.30" font-size="12" font-weight="bold" text-anchor="middle" stroke="#111" stroke-width="0.42" xml:space="preserve">23</text>
<line x1="167.00" y1="451.50" x2="201.60" y2="451.50" stroke="#111" stroke-width="1.0"/>
<polygon points="173.30,451.00 169.80,450.00 169.80,452.00" fill="#777"/>
<polygon points="182.50,451.00 186.00,450.00 186.00,452.00" fill="#777"/>
<line x1="173.50" y1="420.00" x2="173.50" y2="453.00" stroke="#111" stroke-width="1.0" stroke-dasharray="3 1.5"/>
<line x1="182.50" y1="417.10" x2="182.50" y2="453.00" stroke="#111" stroke-width="1.0"/>
<line x1="144.00" y1="393.50" x2="212.00" y2="393.50" stroke="#555" stroke-width="1.0" stroke-dasharray="6 2 1 2"/>
<line x1="395.00" y1="358.00" x2="406.90" y2="358.00" stroke="#111" stroke-width="2.0"/>
<path d="M395.0,357.7 L394.3,372 L387.3,375.5 L397.8,378 L392.5,379 L392.5,401.5 L386.3,403.5 L396.3,405.5 L392.5,406.5 L392.5,426.5 L402.5,426.5 L402.5,427.8 L418.9,427.8 L418.9,420.8 L412.3,420.8" fill="none" stroke="#111" stroke-width="0.8" stroke-linejoin="round"/>
<line x1="407.00" y1="357.70" x2="407.00" y2="420.50" stroke="#111" stroke-width="2.0"/>
<line x1="406.90" y1="420.00" x2="412.30" y2="420.00" stroke="#111" stroke-width="2.0"/>
<line x1="407.60" y1="373.50" x2="414.90" y2="373.50" stroke="#111" stroke-width="1.0"/>
<line x1="414.50" y1="373.00" x2="414.50" y2="421.00" stroke="#111" stroke-width="1.0"/>
<line x1="407.60" y1="379.50" x2="414.90" y2="379.50" stroke="#999" stroke-width="1.0"/>
<line x1="407.60" y1="389.50" x2="414.90" y2="389.50" stroke="#999" stroke-width="1.0"/>
<line x1="407.60" y1="397.50" x2="414.90" y2="397.50" stroke="#999" stroke-width="1.0"/>
<line x1="407.60" y1="407.50" x2="414.90" y2="407.50" stroke="#999" stroke-width="1.0"/>
<line x1="407.60" y1="414.50" x2="414.90" y2="414.50" stroke="#999" stroke-width="1.0"/>
<line x1="408.80" y1="374.50" x2="413.80" y2="374.50" stroke="#ccc" stroke-width="1.0"/>
<line x1="408.80" y1="382.50" x2="413.80" y2="382.50" stroke="#ccc" stroke-width="1.0"/>
<line x1="408.80" y1="392.50" x2="413.80" y2="392.50" stroke="#ccc" stroke-width="1.0"/>
<line x1="408.80" y1="400.50" x2="413.80" y2="400.50" stroke="#ccc" stroke-width="1.0"/>
<line x1="408.80" y1="409.50" x2="413.80" y2="409.50" stroke="#ccc" stroke-width="1.0"/>
<text transform="translate(399.40,387.00) rotate(0) scale(0.930,1)" x="0" y="4.30" font-size="12" font-weight="bold" text-anchor="middle" stroke="#111" stroke-width="0.42" xml:space="preserve">/2</text>
<text transform="translate(399.40,414.60) rotate(0) scale(0.930,1)" x="0" y="4.30" font-size="12" font-weight="bold" text-anchor="middle" stroke="#111" stroke-width="0.42" xml:space="preserve">/3</text>
<rect x="417.50" y="363.50" width="5.00" height="61.00" fill="none" stroke="#111" stroke-width="1.0"/>
<line x1="422.00" y1="349.60" x2="422.00" y2="424.60" stroke="#111" stroke-width="2.0"/>
<line x1="422.00" y1="372.50" x2="475.60" y2="372.50" stroke="#111" stroke-width="1.0"/>
<line x1="422.00" y1="414.50" x2="441.50" y2="414.50" stroke="#111" stroke-width="1.0"/>
<line x1="461.30" y1="414.50" x2="475.60" y2="414.50" stroke="#111" stroke-width="1.0"/>
<line x1="423.90" y1="389.00" x2="440.90" y2="389.00" stroke="#111" stroke-width="2.0"/>
<line x1="442.00" y1="388.80" x2="442.00" y2="398.30" stroke="#111" stroke-width="2.0"/>
<line x1="422.00" y1="398.50" x2="441.50" y2="398.50" stroke="#111" stroke-width="1.0"/>
<line x1="441.50" y1="388.50" x2="457.30" y2="388.50" stroke="#111" stroke-width="1.0"/>
<line x1="441.50" y1="398.50" x2="457.30" y2="398.50" stroke="#111" stroke-width="1.0"/>
<line x1="454.50" y1="382.00" x2="454.50" y2="435.30" stroke="#111" stroke-width="1.0"/>
<polygon points="454.70,388.80 453.70,385.30 455.70,385.30" fill="#777"/>
<polygon points="454.70,398.30 453.70,401.80 455.70,401.80" fill="#777"/>
<text transform="translate(449.00,419.00) rotate(-90) scale(0.930,1)" x="0" y="4.30" font-size="12" font-weight="bold" text-anchor="middle" stroke="#111" stroke-width="0.42" xml:space="preserve">ø25 j6</text>
<line x1="475.50" y1="328.80" x2="475.50" y2="414.60" stroke="#111" stroke-width="1.0"/>
<polygon points="475.20,372.40 474.20,375.90 476.20,375.90" fill="#777"/>
<polygon points="475.20,414.60 474.20,411.10 476.20,411.10" fill="#777"/>
<text transform="translate(468.80,350.60) rotate(-90) scale(0.930,1)" x="0" y="4.30" font-size="12" font-weight="bold" text-anchor="middle" stroke="#111" stroke-width="0.42" xml:space="preserve">ø110 h7</text>
<line x1="441.50" y1="331.00" x2="441.50" y2="398.30" stroke="#111" stroke-width="1.0"/>
<line x1="417.50" y1="330.00" x2="417.50" y2="363.20" stroke="#111" stroke-width="1.0"/>
<line x1="422.50" y1="330.00" x2="422.50" y2="349.60" stroke="#111" stroke-width="1.0"/>
<text transform="translate(406.90,327.60) rotate(0) scale(0.930,1)" x="0" y="4.30" font-size="12" font-weight="bold" text-anchor="middle" stroke="#111" stroke-width="0.42" xml:space="preserve">12</text>
<text transform="translate(432.10,327.60) rotate(0) scale(0.930,1)" x="0" y="4.30" font-size="12" font-weight="bold" text-anchor="middle" stroke="#111" stroke-width="0.42" xml:space="preserve">52</text>
<line x1="401.30" y1="333.50" x2="444.00" y2="333.50" stroke="#111" stroke-width="1.0"/>
<polygon points="417.00,333.20 413.50,332.20 413.50,334.20" fill="#777"/>
<polygon points="422.00,333.20 425.50,332.20 425.50,334.20" fill="#777"/>
<polygon points="441.50,333.20 438.00,332.20 438.00,334.20" fill="#777"/>
<text transform="translate(432.10,343.30) rotate(0) scale(0.930,1)" x="0" y="4.30" font-size="12" font-weight="bold" text-anchor="middle" stroke="#111" stroke-width="0.42" xml:space="preserve">3.5</text>
<line x1="415.70" y1="349.50" x2="441.50" y2="349.50" stroke="#111" stroke-width="1.0"/>
<polygon points="417.60,349.60 414.10,348.60 414.10,350.60" fill="#777"/>
<polygon points="422.00,349.60 425.50,348.60 425.50,350.60" fill="#777"/>
<polygon points="441.50,349.60 438.00,348.60 438.00,350.60" fill="#777"/>
<text transform="translate(432.10,444.70) rotate(0) scale(0.930,1)" x="0" y="4.30" font-size="12" font-weight="bold" text-anchor="middle" stroke="#111" stroke-width="0.42" xml:space="preserve">23</text>
<line x1="406.30" y1="451.50" x2="440.90" y2="451.50" stroke="#111" stroke-width="1.0"/>
<polygon points="412.60,451.00 409.10,450.00 409.10,452.00" fill="#777"/>
<polygon points="421.80,451.00 425.30,450.00 425.30,452.00" fill="#777"/>
<line x1="412.50" y1="420.00" x2="412.50" y2="453.00" stroke="#111" stroke-width="1.0" stroke-dasharray="3 1.5"/>
<line x1="421.50" y1="424.60" x2="421.50" y2="453.00" stroke="#111" stroke-width="1.0"/>
<line x1="383.30" y1="393.50" x2="451.30" y2="393.50" stroke="#555" stroke-width="1.0" stroke-dasharray="6 2 1 2"/>
<line x1="641.50" y1="358.00" x2="653.40" y2="358.00" stroke="#111" stroke-width="2.0"/>
<path d="M641.5,357.7 L640.8,372 L633.8,375.5 L644.3,378 L639.0,379 L639.0,401.5 L632.8,403.5 L642.8,405.5 L639.0,406.5 L639.0,426.5 L649.0,426.5 L649.0,427.8 L665.4,427.8 L665.4,420.8 L658.8,420.8" fill="none" stroke="#111" stroke-width="0.8" stroke-linejoin="round"/>
<line x1="653.00" y1="357.70" x2="653.00" y2="420.50" stroke="#111" stroke-width="2.0"/>
<line x1="653.40" y1="420.00" x2="658.80" y2="420.00" stroke="#111" stroke-width="2.0"/>
<line x1="654.10" y1="373.50" x2="661.40" y2="373.50" stroke="#111" stroke-width="1.0"/>
<line x1="661.50" y1="373.00" x2="661.50" y2="421.00" stroke="#111" stroke-width="1.0"/>
<line x1="654.10" y1="379.50" x2="661.40" y2="379.50" stroke="#999" stroke-width="1.0"/>
<line x1="654.10" y1="389.50" x2="661.40" y2="389.50" stroke="#999" stroke-width="1.0"/>
<line x1="654.10" y1="397.50" x2="661.40" y2="397.50" stroke="#999" stroke-width="1.0"/>
<line x1="654.10" y1="407.50" x2="661.40" y2="407.50" stroke="#999" stroke-width="1.0"/>
<line x1="654.10" y1="414.50" x2="661.40" y2="414.50" stroke="#999" stroke-width="1.0"/>
<line x1="655.30" y1="374.50" x2="660.30" y2="374.50" stroke="#ccc" stroke-width="1.0"/>
<line x1="655.30" y1="382.50" x2="660.30" y2="382.50" stroke="#ccc" stroke-width="1.0"/>
<line x1="655.30" y1="392.50" x2="660.30" y2="392.50" stroke="#ccc" stroke-width="1.0"/>
<line x1="655.30" y1="400.50" x2="660.30" y2="400.50" stroke="#ccc" stroke-width="1.0"/>
<line x1="655.30" y1="409.50" x2="660.30" y2="409.50" stroke="#ccc" stroke-width="1.0"/>
<text transform="translate(645.90,387.00) rotate(0) scale(0.930,1)" x="0" y="4.30" font-size="12" font-weight="bold" text-anchor="middle" stroke="#111" stroke-width="0.42" xml:space="preserve">/2</text>
<text transform="translate(645.90,414.60) rotate(0) scale(0.930,1)" x="0" y="4.30" font-size="12" font-weight="bold" text-anchor="middle" stroke="#111" stroke-width="0.42" xml:space="preserve">/3</text>
<rect x="664.50" y="355.50" width="4.00" height="77.00" fill="none" stroke="#111" stroke-width="1.0"/>
<line x1="668.00" y1="349.60" x2="668.00" y2="432.20" stroke="#111" stroke-width="2.0"/>
<line x1="668.50" y1="368.50" x2="722.20" y2="368.50" stroke="#111" stroke-width="1.0"/>
<line x1="668.50" y1="419.50" x2="688.00" y2="419.50" stroke="#111" stroke-width="1.0"/>
<line x1="707.80" y1="419.50" x2="722.20" y2="419.50" stroke="#111" stroke-width="1.0"/>
<line x1="670.40" y1="389.00" x2="687.40" y2="389.00" stroke="#111" stroke-width="2.0"/>
<line x1="688.00" y1="388.80" x2="688.00" y2="398.30" stroke="#111" stroke-width="2.0"/>
<line x1="668.50" y1="398.50" x2="688.00" y2="398.50" stroke="#111" stroke-width="1.0"/>
<line x1="688.00" y1="388.50" x2="703.80" y2="388.50" stroke="#111" stroke-width="1.0"/>
<line x1="688.00" y1="398.50" x2="703.80" y2="398.50" stroke="#111" stroke-width="1.0"/>
<line x1="702.50" y1="382.00" x2="702.50" y2="435.30" stroke="#111" stroke-width="1.0"/>
<polygon points="702.70,388.80 701.70,385.30 703.70,385.30" fill="#777"/>
<polygon points="702.70,398.30 701.70,401.80 703.70,401.80" fill="#777"/>
<text transform="translate(695.50,419.00) rotate(-90) scale(0.930,1)" x="0" y="4.30" font-size="12" font-weight="bold" text-anchor="middle" stroke="#111" stroke-width="0.42" xml:space="preserve">ø25 j6</text>
<line x1="721.50" y1="367.50" x2="721.50" y2="420.00" stroke="#111" stroke-width="1.0"/>
<polygon points="721.80,368.40 720.80,371.90 722.80,371.90" fill="#777"/>
<polygon points="721.80,419.00 720.80,415.50 722.80,415.50" fill="#777"/>
<text transform="translate(715.80,393.00) rotate(-90) scale(0.930,1)" x="0" y="4.30" font-size="12" font-weight="bold" text-anchor="middle" stroke="#111" stroke-width="0.42" xml:space="preserve">ø130 h7</text>
<line x1="688.50" y1="331.00" x2="688.50" y2="398.30" stroke="#111" stroke-width="1.0"/>
<line x1="663.50" y1="330.00" x2="663.50" y2="355.90" stroke="#111" stroke-width="1.0"/>
<line x1="668.50" y1="330.00" x2="668.50" y2="349.60" stroke="#111" stroke-width="1.0"/>
<text transform="translate(653.40,327.60) rotate(0) scale(0.930,1)" x="0" y="4.30" font-size="12" font-weight="bold" text-anchor="middle" stroke="#111" stroke-width="0.42" xml:space="preserve">12</text>
<text transform="translate(678.60,327.60) rotate(0) scale(0.930,1)" x="0" y="4.30" font-size="12" font-weight="bold" text-anchor="middle" stroke="#111" stroke-width="0.42" xml:space="preserve">52</text>
<line x1="647.80" y1="333.50" x2="690.50" y2="333.50" stroke="#111" stroke-width="1.0"/>
<polygon points="663.50,333.20 660.00,332.20 660.00,334.20" fill="#777"/>
<polygon points="668.50,333.20 672.00,332.20 672.00,334.20" fill="#777"/>
<polygon points="688.00,333.20 684.50,332.20 684.50,334.20" fill="#777"/>
<text transform="translate(678.60,343.30) rotate(0) scale(0.930,1)" x="0" y="4.30" font-size="12" font-weight="bold" text-anchor="middle" stroke="#111" stroke-width="0.42" xml:space="preserve">3.5</text>
<line x1="662.20" y1="349.50" x2="688.00" y2="349.50" stroke="#111" stroke-width="1.0"/>
<polygon points="664.10,349.60 660.60,348.60 660.60,350.60" fill="#777"/>
<polygon points="668.50,349.60 672.00,348.60 672.00,350.60" fill="#777"/>
<polygon points="688.00,349.60 684.50,348.60 684.50,350.60" fill="#777"/>
<text transform="translate(678.60,444.70) rotate(0) scale(0.930,1)" x="0" y="4.30" font-size="12" font-weight="bold" text-anchor="middle" stroke="#111" stroke-width="0.42" xml:space="preserve">23</text>
<line x1="652.80" y1="451.50" x2="687.40" y2="451.50" stroke="#111" stroke-width="1.0"/>
<polygon points="659.10,451.00 655.60,450.00 655.60,452.00" fill="#777"/>
<polygon points="668.30,451.00 671.80,450.00 671.80,452.00" fill="#777"/>
<line x1="659.50" y1="420.00" x2="659.50" y2="453.00" stroke="#111" stroke-width="1.0" stroke-dasharray="3 1.5"/>
<line x1="668.50" y1="432.20" x2="668.50" y2="453.00" stroke="#111" stroke-width="1.0"/>
<line x1="629.80" y1="393.50" x2="697.80" y2="393.50" stroke="#555" stroke-width="1.0" stroke-dasharray="6 2 1 2"/>
<rect x="163.50" y="491.50" width="442.00" height="216.00" fill="none" stroke="#111" stroke-width="1.0"/>
<text transform="translate(227.20,511.30) rotate(0) scale(1.000,1)" x="0" y="4.47" font-size="12.5" font-weight="bold" text-anchor="middle" stroke="#111" stroke-width="0.30" xml:space="preserve" textLength="72.3" lengthAdjust="spacingAndGlyphs">Выходной вал</text>
<text transform="translate(391.80,511.30) rotate(0) scale(1.000,1)" x="0" y="4.47" font-size="12.5" font-weight="bold" text-anchor="middle" stroke="#111" stroke-width="0.30" xml:space="preserve" textLength="119" lengthAdjust="spacingAndGlyphs">Входной полый вал</text>
<text transform="translate(542.50,511.30) rotate(0) scale(1.000,1)" x="0" y="4.47" font-size="12.5" font-weight="bold" text-anchor="middle" stroke="#111" stroke-width="0.30" xml:space="preserve" textLength="80.7" lengthAdjust="spacingAndGlyphs">Входной  вал</text>
<circle cx="235.80" cy="599.50" r="33.40" fill="none" stroke="#111" stroke-width="0.8"/>
<circle cx="235.80" cy="599.50" r="7.10" fill="none" stroke="#111" stroke-width="1.4"/>
<rect x="227.50" y="561.50" width="17.00" height="6.00" fill="#fff" stroke="#111" stroke-width="1.0"/>
<line x1="193.00" y1="599.50" x2="278.00" y2="599.50" stroke="#111" stroke-width="1.0"/>
<line x1="235.50" y1="538.00" x2="235.50" y2="667.50" stroke="#111" stroke-width="1.0"/>
<line x1="227.50" y1="538.80" x2="227.50" y2="561.30" stroke="#111" stroke-width="1.0"/>
<line x1="244.50" y1="538.80" x2="244.50" y2="561.30" stroke="#111" stroke-width="1.0"/>
<line x1="217.50" y1="541.50" x2="296.30" y2="541.50" stroke="#111" stroke-width="1.0"/>
<polygon points="227.00,541.30 222.00,540.00 222.00,542.60" fill="#222"/>
<polygon points="244.50,541.30 249.50,540.00 249.50,542.60" fill="#222"/>
<text transform="translate(255.80,533.30) rotate(0) scale(1.040,1)" x="0" y="4.30" font-size="12" font-weight="bold" text-anchor="middle" stroke="#111" stroke-width="0.30" xml:space="preserve">8</text>
<line x1="176.00" y1="561.50" x2="226.00" y2="561.50" stroke="#111" stroke-width="1.0"/>
<line x1="176.00" y1="632.50" x2="227.00" y2="632.50" stroke="#111" stroke-width="1.0"/>
<line x1="180.50" y1="561.30" x2="180.50" y2="632.00" stroke="#111" stroke-width="1.0"/>
<polygon points="180.00,561.30 178.70,566.30 181.30,566.30" fill="#222"/>
<polygon points="180.00,632.00 178.70,627.00 181.30,627.00" fill="#222"/>
<text transform="translate(172.50,602.50) rotate(-90) scale(1.040,1)" x="0" y="4.30" font-size="12" font-weight="bold" text-anchor="middle" stroke="#111" stroke-width="0.30" xml:space="preserve">28</text>
<line x1="228.50" y1="602.50" x2="228.50" y2="661.30" stroke="#111" stroke-width="1.0"/>
<line x1="243.50" y1="602.50" x2="243.50" y2="661.30" stroke="#111" stroke-width="1.0"/>
<line x1="217.00" y1="660.50" x2="313.80" y2="660.50" stroke="#111" stroke-width="1.0"/>
<polygon points="228.80,660.50 223.80,659.20 223.80,661.80" fill="#222"/>
<polygon points="243.00,660.50 248.00,659.20 248.00,661.80" fill="#222"/>
<text transform="translate(290.00,653.30) rotate(0) scale(1.040,1)" x="0" y="4.30" font-size="12" font-weight="bold" text-anchor="middle" stroke="#111" stroke-width="0.30" xml:space="preserve">M8x20</text>
<line x1="202.50" y1="608.00" x2="202.50" y2="691.00" stroke="#111" stroke-width="1.0"/>
<line x1="269.50" y1="608.00" x2="269.50" y2="691.00" stroke="#111" stroke-width="1.0"/>
<line x1="202.00" y1="690.50" x2="269.30" y2="690.50" stroke="#111" stroke-width="1.0"/>
<polygon points="202.00,690.00 207.00,688.70 207.00,691.30" fill="#222"/>
<polygon points="269.30,690.00 264.30,688.70 264.30,691.30" fill="#222"/>
<text transform="translate(233.80,682.00) rotate(0) scale(1.040,1)" x="0" y="4.30" font-size="12" font-weight="bold" text-anchor="middle" stroke="#111" stroke-width="0.30" xml:space="preserve">25 j6</text>
<circle cx="388.30" cy="599.50" r="29.40" fill="none" stroke="#111" stroke-width="0.8"/>
<path d="M382.5,585.3 A14.9,14.9 0 1 0 393.8,585.3 L393.8,581.3 L382.5,581.3 Z" fill="#fff" stroke="#111" stroke-width="0.9" stroke-linejoin="round"/>
<line x1="352.50" y1="599.50" x2="426.30" y2="599.50" stroke="#111" stroke-width="1.0"/>
<line x1="388.50" y1="558.00" x2="388.50" y2="663.00" stroke="#111" stroke-width="1.0"/>
<line x1="382.50" y1="555.00" x2="382.50" y2="581.30" stroke="#111" stroke-width="1.0"/>
<line x1="393.50" y1="555.00" x2="393.50" y2="581.30" stroke="#111" stroke-width="1.0"/>
<line x1="373.80" y1="556.50" x2="404.50" y2="556.50" stroke="#111" stroke-width="1.0"/>
<polygon points="382.50,556.30 377.50,555.00 377.50,557.60" fill="#222"/>
<polygon points="393.80,556.30 398.80,555.00 398.80,557.60" fill="#222"/>
<text transform="translate(388.00,548.80) rotate(0) scale(1.040,1)" x="0" y="4.30" font-size="12" font-weight="bold" text-anchor="middle" stroke="#111" stroke-width="0.30" xml:space="preserve">G2</text>
<line x1="393.80" y1="581.50" x2="448.00" y2="581.50" stroke="#111" stroke-width="1.0"/>
<line x1="393.80" y1="614.50" x2="448.00" y2="614.50" stroke="#111" stroke-width="1.0"/>
<line x1="446.50" y1="581.30" x2="446.50" y2="614.30" stroke="#111" stroke-width="1.0"/>
<polygon points="446.30,581.30 445.00,586.30 447.60,586.30" fill="#222"/>
<polygon points="446.30,614.30 445.00,609.30 447.60,609.30" fill="#222"/>
<text transform="translate(437.50,597.50) rotate(-90) scale(1.040,1)" x="0" y="4.30" font-size="12" font-weight="bold" text-anchor="middle" stroke="#111" stroke-width="0.30" xml:space="preserve">G1</text>
<line x1="373.50" y1="605.00" x2="373.50" y2="662.00" stroke="#111" stroke-width="1.0"/>
<line x1="403.50" y1="605.00" x2="403.50" y2="662.00" stroke="#111" stroke-width="1.0"/>
<line x1="362.00" y1="661.50" x2="454.50" y2="661.50" stroke="#111" stroke-width="1.0"/>
<polygon points="373.30,661.30 368.30,660.00 368.30,662.60" fill="#222"/>
<polygon points="403.00,661.30 408.00,660.00 408.00,662.60" fill="#222"/>
<text transform="translate(433.80,653.00) rotate(0) scale(1.040,1)" x="0" y="4.30" font-size="12" font-weight="bold" text-anchor="middle" stroke="#111" stroke-width="0.30" xml:space="preserve">G (F7)</text>
<circle cx="546.80" cy="597.50" r="20.60" fill="none" stroke="#111" stroke-width="0.8"/>
<circle cx="546.80" cy="597.50" r="3.80" fill="none" stroke="#111" stroke-width="1.2"/>
<rect x="541.50" y="572.50" width="10.00" height="5.00" fill="#fff" stroke="#111" stroke-width="1.0"/>
<line x1="520.00" y1="597.50" x2="572.50" y2="597.50" stroke="#111" stroke-width="1.0"/>
<line x1="546.50" y1="559.00" x2="546.50" y2="640.00" stroke="#111" stroke-width="1.0"/>
<line x1="541.50" y1="559.00" x2="541.50" y2="577.00" stroke="#111" stroke-width="1.0"/>
<line x1="551.50" y1="559.00" x2="551.50" y2="577.00" stroke="#111" stroke-width="1.0"/>
<line x1="532.50" y1="560.50" x2="582.50" y2="560.50" stroke="#111" stroke-width="1.0"/>
<polygon points="541.80,560.50 536.80,559.20 536.80,561.80" fill="#222"/>
<polygon points="551.80,560.50 556.80,559.20 556.80,561.80" fill="#222"/>
<text transform="translate(570.50,553.30) rotate(0) scale(1.040,1)" x="0" y="4.30" font-size="12" font-weight="bold" text-anchor="middle" stroke="#111" stroke-width="0.30" xml:space="preserve">6</text>
<line x1="510.00" y1="572.50" x2="540.00" y2="572.50" stroke="#111" stroke-width="1.0"/>
<line x1="510.00" y1="617.50" x2="547.00" y2="617.50" stroke="#111" stroke-width="1.0"/>
<line x1="512.50" y1="572.50" x2="512.50" y2="617.50" stroke="#111" stroke-width="1.0"/>
<polygon points="512.50,572.50 511.20,577.50 513.80,577.50" fill="#222"/>
<polygon points="512.50,617.50 511.20,612.50 513.80,612.50" fill="#222"/>
<text transform="translate(505.00,593.80) rotate(-90) scale(1.040,1)" x="0" y="4.30" font-size="12" font-weight="bold" text-anchor="middle" stroke="#111" stroke-width="0.30" xml:space="preserve">21,5</text>
<line x1="542.50" y1="601.00" x2="542.50" y2="637.00" stroke="#111" stroke-width="1.0"/>
<line x1="551.50" y1="601.00" x2="551.50" y2="637.00" stroke="#111" stroke-width="1.0"/>
<line x1="531.30" y1="635.50" x2="587.50" y2="635.50" stroke="#111" stroke-width="1.0"/>
<polygon points="542.50,635.30 537.50,634.00 537.50,636.60" fill="#222"/>
<polygon points="551.30,635.30 556.30,634.00 556.30,636.60" fill="#222"/>
<text transform="translate(578.80,628.50) rotate(0) scale(1.040,1)" x="0" y="4.30" font-size="12" font-weight="bold" text-anchor="middle" stroke="#111" stroke-width="0.30" xml:space="preserve">M5</text>
<line x1="526.50" y1="605.00" x2="526.50" y2="661.00" stroke="#111" stroke-width="1.0"/>
<line x1="567.50" y1="605.00" x2="567.50" y2="661.00" stroke="#111" stroke-width="1.0"/>
<line x1="526.00" y1="660.50" x2="567.50" y2="660.50" stroke="#111" stroke-width="1.0"/>
<polygon points="526.00,660.00 531.00,658.70 531.00,661.30" fill="#222"/>
<polygon points="567.50,660.00 562.50,658.70 562.50,661.30" fill="#222"/>
<text transform="translate(545.00,651.80) rotate(0) scale(1.000,1)" x="0" y="4.30" font-size="12" font-weight="bold" text-anchor="middle" stroke="#111" stroke-width="0.30" xml:space="preserve" textLength="32.5" lengthAdjust="spacingAndGlyphs">19 (j6)</text></svg></body></html>
